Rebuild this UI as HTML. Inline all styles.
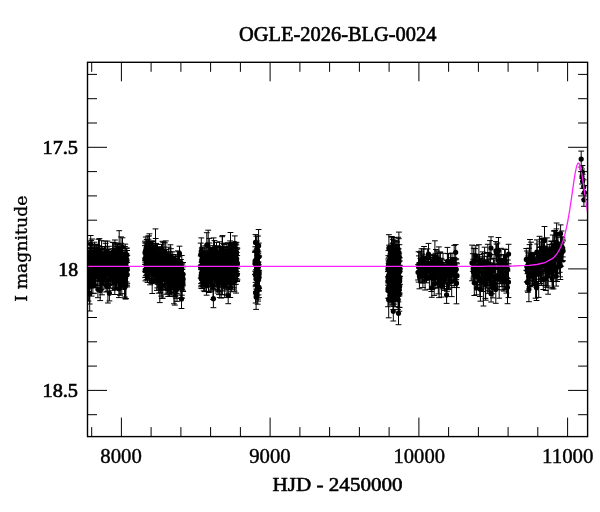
<!DOCTYPE html>
<html><head><meta charset="utf-8"><title>OGLE-2026-BLG-0024</title>
<style>html,body{margin:0;padding:0;background:#fff;width:600px;height:512px;overflow:hidden}svg{display:block;will-change:transform}</style>
</head><body>
<svg width="600" height="512" viewBox="0 0 600 512">
<rect width="600" height="512" fill="#fff"/>
<defs><clipPath id="c"><rect x="87.5" y="62.3" width="500.1" height="374.3"/></clipPath></defs>
<g clip-path="url(#c)">
<path d="M85.7 261.2h0M86.0 249.4h0M86.1 269.7h0M86.3 271.9h0M86.6 263.3h0M86.7 265.6h0M86.8 263.3h0M87.1 263.0h0M87.2 262.8h0M87.3 252.0h0M87.6 278.5h0M87.6 253.6h0M88.0 260.2h0M88.0 269.7h0M88.2 261.8h0M88.4 278.9h0M88.6 264.3h0M88.8 262.8h0M88.9 268.2h0M89.1 281.0h0M89.4 263.7h0M89.4 266.2h0M89.7 293.4h0M89.7 286.3h0M89.9 258.7h0M90.1 260.3h0M90.2 268.1h0M90.5 265.5h0M90.7 244.3h0M90.9 260.1h0M91.0 259.6h0M91.2 255.3h0M91.4 278.4h0M91.6 285.8h0M91.6 262.5h0M91.8 276.4h0M92.1 252.9h0M92.2 264.9h0M92.4 259.7h0M92.6 264.4h0M92.8 266.7h0M92.9 282.4h0M93.0 270.4h0M93.3 254.7h0M93.5 276.5h0M93.7 274.2h0M93.8 268.6h0M94.0 261.9h0M94.2 254.7h0M94.4 276.8h0M94.5 252.1h0M94.7 258.8h0M94.9 275.1h0M95.1 260.0h0M95.2 275.8h0M95.3 252.8h0M95.5 267.0h0M95.6 276.3h0M95.8 265.9h0M96.0 275.1h0M96.2 269.7h0M96.4 264.4h0M96.5 256.8h0M96.8 256.8h0M96.9 255.5h0M97.2 263.4h0M97.3 262.9h0M97.5 268.1h0M97.7 269.4h0M97.9 289.3h0M97.9 274.0h0M98.2 265.5h0M98.3 261.3h0M98.5 249.3h0M98.7 261.7h0M98.8 274.0h0M99.0 258.5h0M99.3 269.5h0M99.4 252.4h0M99.6 264.5h0M99.8 269.9h0M99.8 278.9h0M100.0 266.0h0M100.2 290.5h0M100.4 264.9h0M100.6 276.3h0M100.8 269.3h0M101.0 261.4h0M101.1 265.1h0M101.3 266.8h0M101.5 277.8h0M101.6 253.0h0M101.8 263.0h0M102.0 283.0h0M102.2 256.2h0M102.4 269.3h0M102.5 274.4h0M102.7 262.0h0M102.9 271.2h0M103.0 263.4h0M103.3 266.9h0M103.3 270.3h0M103.6 266.4h0M103.7 264.0h0M103.8 258.5h0M104.0 267.0h0M104.2 266.9h0M104.5 268.7h0M104.6 256.6h0M104.7 271.9h0M105.0 264.1h0M105.0 270.8h0M105.3 255.1h0M105.5 270.1h0M105.7 255.2h0M105.7 262.1h0M106.0 267.1h0M106.1 285.6h0M106.4 269.1h0M106.5 266.2h0M106.8 263.2h0M106.8 265.7h0M107.0 263.4h0M107.2 286.4h0M107.4 261.6h0M107.5 253.0h0M107.7 260.8h0M107.9 285.1h0M108.1 265.8h0M108.3 273.4h0M108.5 265.4h0M108.6 270.7h0M108.9 254.9h0M108.9 265.5h0M109.2 268.0h0M109.2 272.1h0M109.4 293.2h0M109.7 267.0h0M109.8 274.5h0M110.0 262.6h0M110.1 267.1h0M110.3 266.1h0M110.6 266.9h0M110.6 273.8h0M110.8 262.3h0M111.1 268.4h0M111.2 264.4h0M111.4 260.2h0M111.6 265.2h0M111.8 263.4h0M111.8 265.9h0M112.0 272.1h0M112.2 273.7h0M112.4 258.6h0M112.6 252.5h0M112.8 277.5h0M112.9 265.8h0M113.2 276.4h0M113.4 258.0h0M113.4 264.1h0M113.7 269.3h0M113.8 263.2h0M114.0 275.8h0M114.2 258.5h0M114.3 263.2h0M114.6 265.0h0M114.8 282.7h0M114.9 255.1h0M115.0 278.3h0M115.3 271.1h0M115.5 275.4h0M115.6 270.6h0M115.8 256.5h0M115.9 269.6h0M116.1 263.2h0M116.3 269.8h0M116.4 272.4h0M116.7 267.2h0M116.8 267.2h0M117.0 253.4h0M117.1 261.2h0M117.3 254.8h0M117.5 256.5h0M117.6 262.0h0M117.9 261.8h0M118.0 269.8h0M118.2 272.2h0M118.3 276.3h0M118.5 263.9h0M118.7 253.0h0M118.9 288.7h0M119.1 262.4h0M119.2 250.5h0M119.3 267.6h0M119.5 271.9h0M119.7 262.8h0M119.9 282.4h0M120.2 271.3h0M120.2 285.1h0M120.4 267.1h0M120.7 269.4h0M120.7 267.5h0M121.0 251.7h0M121.2 253.8h0M121.4 261.4h0M121.4 270.9h0M121.7 276.7h0M121.8 283.6h0M121.9 268.5h0M122.2 261.4h0M122.3 261.9h0M122.5 247.1h0M122.7 272.6h0M122.8 267.0h0M123.0 264.5h0M123.3 261.8h0M123.5 266.7h0M123.6 270.7h0M123.8 262.0h0M124.0 268.0h0M124.2 266.5h0M124.3 266.0h0M124.4 268.1h0M124.7 287.6h0M124.7 279.6h0M125.0 254.2h0M125.2 269.5h0M125.3 261.2h0M125.5 265.4h0M125.6 285.3h0M125.9 285.4h0M126.1 265.8h0M126.2 262.2h0M126.4 269.3h0M126.6 261.7h0M126.6 254.5h0M126.8 259.4h0M127.1 267.8h0M127.2 274.7h0M127.3 269.3h0M144.9 258.8h0M145.0 252.8h0M145.2 251.8h0M145.2 269.8h0M145.4 270.7h0M145.6 250.5h0M145.8 256.3h0M146.0 264.4h0M146.0 260.3h0M146.3 257.4h0M146.5 268.0h0M146.7 263.1h0M146.7 250.2h0M146.9 258.8h0M147.1 247.1h0M147.2 262.1h0M147.5 275.6h0M147.6 261.6h0M147.8 246.5h0M147.9 259.1h0M148.1 269.5h0M148.2 255.3h0M148.3 268.4h0M148.5 253.4h0M148.6 261.7h0M148.8 263.0h0M149.0 255.5h0M149.1 243.1h0M149.4 271.8h0M149.4 246.8h0M149.6 269.7h0M149.9 260.2h0M150.0 269.9h0M150.1 256.6h0M150.3 260.6h0M150.5 257.3h0M150.6 259.9h0M150.7 260.9h0M150.9 254.3h0M151.1 258.9h0M151.3 270.0h0M151.5 259.4h0M151.6 249.8h0M151.8 269.4h0M152.0 261.5h0M152.1 263.2h0M152.2 281.6h0M152.4 256.0h0M152.5 260.2h0M152.7 258.1h0M152.8 263.3h0M153.0 255.2h0M153.2 273.0h0M153.3 264.6h0M153.4 259.1h0M153.7 257.5h0M153.9 263.8h0M154.0 271.7h0M154.2 260.5h0M154.3 260.6h0M154.5 269.3h0M154.6 272.7h0M154.8 258.2h0M155.0 266.9h0M155.1 266.3h0M155.3 261.7h0M155.4 265.5h0M155.5 246.5h0M155.7 260.3h0M155.9 265.1h0M156.1 257.2h0M156.2 269.7h0M156.3 269.7h0M156.6 263.9h0M156.7 260.0h0M156.9 281.2h0M157.0 262.7h0M157.2 265.9h0M157.3 269.4h0M157.5 253.2h0M157.7 264.9h0M157.9 269.5h0M158.0 269.6h0M158.2 271.1h0M158.4 263.2h0M158.5 271.9h0M158.7 279.8h0M158.9 280.0h0M158.9 262.8h0M159.1 262.8h0M159.2 254.5h0M159.5 265.6h0M159.6 264.8h0M159.8 283.6h0M159.9 277.7h0M160.1 258.3h0M160.3 282.4h0M160.4 273.5h0M160.5 260.1h0M160.7 259.4h0M160.9 266.4h0M161.0 259.9h0M161.2 288.3h0M161.3 279.6h0M161.5 250.8h0M161.7 267.4h0M161.8 266.3h0M161.9 285.1h0M162.1 266.4h0M162.2 264.5h0M162.5 253.6h0M162.7 268.9h0M162.8 277.7h0M163.0 269.3h0M163.2 251.8h0M163.3 258.5h0M163.5 272.0h0M163.7 262.1h0M163.8 267.8h0M164.0 264.1h0M164.0 262.9h0M164.3 276.2h0M164.4 268.5h0M164.6 274.9h0M164.7 270.5h0M164.9 254.4h0M165.1 274.3h0M165.3 266.9h0M165.4 270.2h0M165.5 273.5h0M165.6 257.7h0M165.8 258.2h0M166.1 272.9h0M166.2 278.3h0M166.3 260.3h0M166.5 257.9h0M166.7 276.3h0M166.8 272.4h0M167.0 265.5h0M167.2 270.2h0M167.3 269.6h0M167.5 278.8h0M167.7 274.1h0M167.8 264.8h0M167.9 272.2h0M168.1 281.3h0M168.2 267.0h0M168.5 270.8h0M168.6 265.6h0M168.7 259.2h0M169.0 274.9h0M169.1 276.9h0M169.2 272.0h0M169.4 285.5h0M169.6 268.9h0M169.7 271.9h0M169.8 283.9h0M170.0 266.0h0M170.3 285.8h0M170.3 268.1h0M170.4 258.6h0M170.7 266.1h0M170.8 278.4h0M170.9 262.5h0M171.2 280.9h0M171.3 285.2h0M171.5 264.3h0M171.6 269.9h0M171.8 261.3h0M172.0 282.4h0M172.2 259.0h0M172.2 275.9h0M172.5 274.1h0M172.6 274.6h0M172.8 269.0h0M173.0 263.1h0M173.1 269.0h0M173.2 273.3h0M173.5 271.2h0M173.6 273.7h0M173.7 273.1h0M173.9 281.6h0M174.1 284.4h0M174.1 278.2h0M174.4 281.7h0M174.5 267.2h0M174.6 268.9h0M174.9 286.5h0M175.0 268.5h0M175.2 288.9h0M175.3 267.7h0M175.4 270.4h0M175.7 282.9h0M175.8 284.4h0M176.0 280.1h0M176.1 282.0h0M176.3 267.7h0M176.4 275.4h0M176.6 284.0h0M176.7 269.4h0M177.0 289.0h0M177.1 275.2h0M177.2 287.2h0M177.4 281.4h0M177.5 275.7h0M177.8 270.8h0M177.8 264.4h0M178.1 267.7h0M178.1 270.4h0M178.4 263.3h0M178.5 276.7h0M178.7 265.0h0M178.9 266.1h0M179.0 276.0h0M179.2 282.0h0M179.4 278.6h0M179.5 253.7h0M179.6 269.6h0M179.9 280.4h0M180.0 270.4h0M180.1 270.7h0M180.4 273.0h0M180.4 272.2h0M180.7 277.2h0M180.8 283.8h0M180.9 269.9h0M181.0 274.2h0M181.3 277.1h0M181.5 287.3h0M181.5 299.1h0M181.8 268.8h0M181.9 286.1h0M182.1 287.7h0M182.3 276.8h0M182.4 274.0h0M182.5 280.5h0M182.7 275.3h0M182.9 282.6h0M183.0 274.2h0M183.2 279.1h0M200.7 254.5h0M200.7 266.9h0M201.0 278.0h0M201.1 275.5h0M201.3 251.2h0M201.3 279.1h0M201.5 273.7h0M201.7 260.4h0M201.8 272.5h0M202.1 262.5h0M202.1 267.0h0M202.3 272.9h0M202.5 277.8h0M202.6 265.4h0M202.7 264.1h0M202.9 265.9h0M203.0 269.5h0M203.2 278.4h0M203.4 263.3h0M203.5 265.5h0M203.7 275.6h0M203.8 263.6h0M203.9 261.4h0M204.2 278.3h0M204.3 264.4h0M204.5 274.0h0M204.5 257.7h0M204.8 282.9h0M205.0 275.5h0M205.1 266.5h0M205.2 260.2h0M205.3 276.4h0M205.6 264.2h0M205.7 271.0h0M205.9 267.2h0M206.0 264.0h0M206.1 273.5h0M206.3 260.8h0M206.4 272.2h0M206.6 285.7h0M206.8 244.9h0M207.0 258.4h0M207.1 257.9h0M207.2 265.5h0M207.5 268.4h0M207.5 265.3h0M207.7 260.8h0M207.8 269.9h0M208.1 271.1h0M208.2 246.0h0M208.4 271.8h0M208.5 280.0h0M208.6 261.6h0M208.8 274.2h0M208.9 271.4h0M209.0 266.0h0M209.3 255.6h0M209.4 259.0h0M209.5 252.4h0M209.8 265.1h0M209.8 279.0h0M210.1 277.2h0M210.1 265.5h0M210.4 266.2h0M210.4 260.5h0M210.6 261.8h0M210.8 280.8h0M210.9 260.7h0M211.1 262.2h0M211.2 276.5h0M211.4 265.6h0M211.5 262.2h0M211.7 277.3h0M211.8 260.2h0M212.1 259.2h0M212.2 263.2h0M212.3 259.2h0M212.5 270.8h0M212.6 275.9h0M212.8 261.5h0M212.9 273.9h0M213.1 285.5h0M213.2 268.9h0M213.4 298.7h0M213.6 248.5h0M213.7 255.1h0M213.9 262.2h0M214.0 268.3h0M214.1 261.1h0M214.4 269.5h0M214.5 250.5h0M214.6 274.2h0M214.8 271.3h0M214.9 276.1h0M215.1 261.7h0M215.3 266.6h0M215.4 271.8h0M215.6 265.1h0M215.8 256.1h0M215.9 267.3h0M216.0 264.9h0M216.3 266.5h0M216.3 267.1h0M216.5 251.9h0M216.7 263.4h0M216.8 260.2h0M216.9 260.6h0M217.1 279.9h0M217.2 276.1h0M217.4 276.4h0M217.5 267.4h0M217.7 273.7h0M217.8 256.5h0M218.0 282.2h0M218.2 256.3h0M218.4 262.5h0M218.6 276.7h0M218.6 283.0h0M218.8 271.4h0M219.0 280.1h0M219.1 270.2h0M219.2 264.0h0M219.5 264.1h0M219.7 281.6h0M219.7 273.1h0M219.9 272.6h0M220.0 264.8h0M220.2 261.2h0M220.3 258.2h0M220.5 270.8h0M220.7 260.8h0M220.8 266.5h0M221.0 267.2h0M221.2 275.7h0M221.2 271.6h0M221.4 280.7h0M221.6 267.4h0M221.8 280.2h0M221.9 273.5h0M222.0 270.5h0M222.2 248.8h0M222.3 279.9h0M222.5 257.9h0M222.7 269.7h0M222.8 257.4h0M223.0 280.1h0M223.1 255.2h0M223.3 269.9h0M223.5 268.4h0M223.6 262.6h0M223.8 258.0h0M223.9 260.6h0M224.1 255.1h0M224.2 262.7h0M224.3 278.7h0M224.6 261.6h0M224.7 284.6h0M224.9 274.2h0M224.9 266.8h0M225.2 255.3h0M225.3 259.8h0M225.4 271.2h0M225.6 261.1h0M225.7 260.7h0M225.9 270.4h0M226.1 266.4h0M226.2 257.8h0M226.4 262.9h0M226.6 277.6h0M226.7 271.5h0M226.9 269.9h0M226.9 276.5h0M227.1 279.6h0M227.2 271.8h0M227.4 269.7h0M227.6 259.9h0M227.8 272.9h0M227.9 256.4h0M228.0 281.4h0M228.2 295.5h0M228.3 263.6h0M228.6 266.1h0M228.7 271.4h0M228.9 263.2h0M229.0 263.6h0M229.1 264.2h0M229.3 267.2h0M229.5 256.1h0M229.5 263.2h0M229.8 274.7h0M229.9 254.1h0M230.1 252.8h0M230.3 287.5h0M230.5 244.4h0M230.5 278.1h0M230.6 270.8h0M230.8 267.3h0M231.0 268.4h0M231.2 261.6h0M231.4 258.4h0M231.4 269.3h0M231.6 272.1h0M231.8 270.6h0M231.9 265.6h0M232.2 256.5h0M232.3 266.6h0M232.4 263.7h0M232.6 261.9h0M232.7 267.9h0M232.8 278.6h0M233.0 264.3h0M233.1 259.5h0M233.3 265.7h0M233.4 250.7h0M233.7 272.3h0M233.8 270.1h0M233.9 274.1h0M234.1 255.7h0M234.2 262.8h0M234.4 272.4h0M234.5 268.9h0M234.8 265.6h0M234.8 243.3h0M235.1 262.6h0M235.2 249.8h0M235.3 259.0h0M235.5 252.3h0M235.7 260.7h0M235.8 273.4h0M235.9 250.9h0M236.1 273.5h0M236.2 270.7h0M236.4 254.4h0M236.5 252.1h0M236.7 258.8h0M236.8 262.0h0M237.1 264.8h0M237.2 264.5h0M237.3 274.5h0M237.4 263.7h0M255.0 263.5h0M255.1 261.7h0M255.3 262.9h0M255.3 260.5h0M255.5 242.4h0M255.6 275.5h0M255.6 292.7h0M255.7 272.8h0M255.9 260.7h0M256.0 279.1h0M256.1 297.1h0M256.2 251.3h0M256.3 274.6h0M256.4 251.2h0M256.6 269.3h0M256.7 284.5h0M256.8 262.1h0M256.9 249.9h0M257.0 278.0h0M257.1 267.6h0M257.1 280.7h0M257.3 265.9h0M257.4 260.2h0M257.5 275.2h0M257.6 281.5h0M257.7 290.2h0M257.8 279.6h0M257.9 287.9h0M258.0 250.8h0M258.2 289.4h0M258.3 267.2h0M258.4 263.2h0M258.5 275.2h0M258.6 245.7h0M258.6 279.1h0M258.8 256.7h0M258.9 277.7h0M259.0 287.3h0M259.1 274.0h0M259.2 272.4h0M388.0 277.2h0M388.0 289.2h0M388.1 281.1h0M388.2 267.8h0M388.3 268.9h0M388.4 290.7h0M388.4 265.7h0M388.5 279.5h0M388.6 275.3h0M388.7 299.8h0M388.8 280.1h0M388.8 268.7h0M388.9 248.2h0M389.0 268.1h0M389.1 269.8h0M389.1 278.2h0M389.3 275.4h0M389.3 288.8h0M389.4 284.5h0M389.5 281.0h0M389.6 284.4h0M389.6 270.2h0M389.7 270.8h0M389.8 275.9h0M389.9 275.6h0M390.0 260.1h0M390.1 288.7h0M390.1 268.4h0M390.2 267.8h0M390.3 275.8h0M390.4 268.7h0M390.5 263.6h0M390.5 287.7h0M390.6 281.0h0M390.7 265.1h0M390.8 264.2h0M390.9 258.9h0M391.0 292.5h0M391.0 275.1h0M391.1 268.1h0M391.1 270.1h0M391.2 251.4h0M391.3 286.9h0M391.4 278.7h0M391.5 248.8h0M391.6 255.6h0M391.7 271.5h0M391.7 288.5h0M391.8 274.4h0M391.9 262.2h0M392.0 293.6h0M392.1 274.6h0M392.2 299.8h0M392.3 273.1h0M392.3 286.1h0M392.4 269.7h0M392.4 269.3h0M392.6 253.1h0M392.6 256.7h0M392.7 281.3h0M392.8 255.4h0M392.8 268.1h0M393.0 267.4h0M393.1 283.7h0M393.1 262.5h0M393.2 297.2h0M393.3 311.2h0M393.3 265.2h0M393.4 248.3h0M393.5 268.4h0M393.6 263.6h0M393.6 261.7h0M393.7 259.5h0M393.8 275.4h0M393.9 298.1h0M394.0 257.4h0M394.1 287.7h0M394.2 288.5h0M394.2 259.0h0M394.3 288.5h0M394.4 275.7h0M394.5 267.7h0M394.5 268.6h0M394.6 275.5h0M394.7 277.2h0M394.8 261.1h0M394.9 255.7h0M395.0 260.5h0M395.1 284.0h0M395.1 270.1h0M395.2 294.0h0M395.2 267.3h0M395.4 270.0h0M395.4 266.5h0M395.5 267.1h0M395.6 275.5h0M395.7 278.5h0M395.7 287.4h0M395.8 284.0h0M395.9 268.4h0M396.0 287.8h0M396.1 260.5h0M396.1 276.7h0M396.2 281.0h0M396.3 265.2h0M396.4 281.1h0M396.5 254.2h0M396.6 270.9h0M396.6 258.7h0M396.7 276.1h0M396.8 260.7h0M396.8 253.8h0M397.0 278.5h0M397.1 280.0h0M397.1 261.4h0M397.2 272.5h0M397.3 265.3h0M397.4 256.2h0M397.4 269.4h0M397.5 283.2h0M397.6 268.8h0M397.7 271.1h0M397.7 276.6h0M397.8 263.7h0M398.0 299.4h0M398.0 284.0h0M398.1 267.2h0M398.2 249.2h0M398.2 275.3h0M398.3 277.1h0M398.4 282.5h0M398.5 313.3h0M398.5 262.3h0M398.6 283.9h0M398.7 262.5h0M398.8 252.6h0M398.9 272.3h0M398.9 257.3h0M399.1 278.7h0M399.2 289.2h0M399.2 260.9h0M399.3 293.6h0M399.4 256.9h0M399.5 279.8h0M399.5 286.3h0M399.6 286.5h0M399.7 281.0h0M399.8 271.0h0M399.8 278.2h0M399.9 268.7h0M418.0 272.3h0M418.6 266.9h0M418.9 264.2h0M419.4 275.8h0M419.9 265.0h0M420.4 268.8h0M420.9 268.7h0M421.0 266.9h0M421.6 259.3h0M422.0 267.6h0M422.5 271.3h0M422.9 271.2h0M423.3 261.8h0M424.0 262.3h0M424.4 269.2h0M424.5 269.4h0M425.1 276.0h0M425.4 268.6h0M425.9 268.7h0M426.5 272.5h0M426.8 267.1h0M427.4 257.7h0M427.8 271.0h0M428.0 263.5h0M428.5 254.2h0M429.1 269.0h0M429.4 277.8h0M430.1 268.4h0M430.5 265.7h0M430.9 268.2h0M431.2 275.5h0M431.8 287.8h0M432.0 275.6h0M432.5 269.7h0M433.0 262.0h0M433.3 278.7h0M434.0 264.5h0M434.2 283.8h0M434.9 257.3h0M435.4 273.4h0M435.5 264.8h0M435.9 268.8h0M436.7 266.4h0M436.9 264.5h0M437.5 268.7h0M437.6 277.9h0M438.3 283.1h0M438.9 259.1h0M439.1 279.7h0M439.8 267.4h0M440.1 262.1h0M440.3 263.1h0M440.8 272.5h0M441.4 285.6h0M441.7 276.3h0M442.3 271.5h0M442.7 271.1h0M443.0 271.1h0M443.6 274.9h0M443.8 275.7h0M444.5 279.4h0M445.0 270.2h0M445.4 274.8h0M445.5 273.4h0M446.3 273.8h0M446.6 294.9h0M447.0 275.9h0M447.4 261.3h0M448.0 271.2h0M448.2 284.1h0M448.5 271.5h0M449.3 276.1h0M449.7 268.9h0M449.8 273.2h0M450.4 261.5h0M450.7 271.7h0M451.2 269.0h0M451.7 280.8h0M452.0 264.9h0M452.9 267.9h0M453.3 274.6h0M453.4 267.1h0M454.1 269.5h0M454.2 266.5h0M454.6 271.8h0M455.5 270.6h0M455.7 252.3h0M456.3 269.3h0M456.5 283.2h0M457.0 275.7h0M472.0 262.9h0M472.8 262.5h0M473.2 268.7h0M473.5 272.2h0M473.7 262.1h0M474.3 282.8h0M474.7 275.4h0M475.1 260.5h0M475.8 255.8h0M476.2 269.0h0M476.4 288.0h0M477.1 271.1h0M477.5 276.8h0M477.6 277.1h0M478.3 277.1h0M478.9 260.5h0M479.3 269.6h0M479.4 264.8h0M479.8 278.3h0M480.4 289.2h0M481.1 268.7h0M481.4 271.1h0M481.6 280.9h0M482.1 266.1h0M482.6 264.2h0M483.0 280.6h0M483.4 282.9h0M484.0 262.3h0M484.2 275.2h0M484.6 263.3h0M485.4 280.2h0M485.7 283.7h0M486.3 273.4h0M486.6 274.9h0M487.0 262.6h0M487.2 262.3h0M487.8 268.8h0M488.2 275.1h0M488.7 273.1h0M489.3 278.9h0M489.6 277.1h0M490.0 254.8h0M490.6 273.4h0M491.0 248.0h0M491.1 293.7h0M491.6 275.2h0M492.1 282.7h0M492.8 271.3h0M492.9 287.4h0M493.4 265.2h0M494.1 268.4h0M494.5 284.0h0M494.9 277.8h0M495.4 278.6h0M495.8 289.3h0M495.9 250.9h0M496.5 253.1h0M497.2 275.7h0M497.4 254.4h0M497.7 279.2h0M498.5 250.5h0M499.0 268.0h0M499.2 279.0h0M499.8 261.2h0M499.9 269.2h0M500.4 271.3h0M501.0 264.6h0M501.5 266.3h0M501.8 277.7h0M502.2 274.5h0M502.7 270.0h0M503.1 269.2h0M503.6 268.1h0M503.8 281.6h0M504.4 276.0h0M504.6 260.5h0M505.3 256.6h0M505.6 269.2h0M506.0 280.1h0M506.4 282.0h0M506.9 266.3h0M507.5 287.4h0M507.8 269.3h0M508.5 282.0h0M508.6 254.1h0M526.3 259.4h0M526.8 266.5h0M527.1 270.5h0M527.5 282.4h0M527.9 282.5h0M528.2 266.6h0M528.3 264.8h0M528.9 289.3h0M529.2 265.7h0M529.5 275.6h0M529.6 262.8h0M530.0 263.1h0M530.6 267.0h0M530.8 266.7h0M531.0 255.1h0M531.3 264.9h0M531.6 266.5h0M532.3 276.3h0M532.4 262.9h0M532.9 272.1h0M533.1 271.5h0M533.4 268.0h0M533.8 267.3h0M534.2 266.8h0M534.4 269.9h0M534.9 269.6h0M535.1 271.3h0M535.6 283.5h0M535.9 267.3h0M536.3 270.2h0M536.5 287.7h0M536.9 252.1h0M537.2 252.5h0M537.5 262.9h0M538.0 261.1h0M538.3 270.1h0M538.5 269.6h0M538.7 273.8h0M539.2 266.3h0M539.5 256.1h0M539.8 261.0h0M540.1 258.3h0M540.5 268.5h0M540.8 255.9h0M541.2 271.2h0M541.6 262.2h0M541.8 248.8h0M542.3 248.5h0M542.5 255.4h0M542.8 264.1h0M543.3 279.4h0M543.7 254.0h0M543.8 252.4h0M544.2 258.9h0M544.5 240.4h0M545.0 266.3h0M545.4 259.9h0M545.7 278.8h0M545.9 266.7h0M546.3 265.8h0M546.7 271.2h0M546.9 249.9h0M547.4 258.4h0M547.7 272.2h0M548.1 275.7h0M548.2 263.7h0M548.8 268.2h0M549.0 260.6h0M549.2 261.7h0M549.7 253.8h0M549.9 261.7h0M550.4 262.2h0M550.8 258.1h0M551.1 256.0h0M551.2 261.2h0M551.5 256.6h0M552.1 278.2h0M552.4 265.7h0M552.8 248.7h0M552.9 271.0h0M553.5 276.2h0M553.8 246.0h0M554.0 260.1h0M554.4 248.1h0M554.6 266.7h0M555.1 249.9h0M555.4 255.2h0M555.8 270.1h0M556.2 276.1h0M556.5 242.5h0M556.6 234.0h0M557.1 267.0h0M557.3 251.8h0M557.6 260.0h0M558.0 249.2h0M558.3 257.7h0M558.6 251.8h0M558.9 256.4h0M559.5 255.2h0M559.7 261.1h0M560.1 264.7h0M560.4 265.8h0M560.6 233.5h0M561.2 251.5h0M561.3 252.9h0M561.6 246.5h0M562.1 252.1h0M562.4 249.2h0M562.7 248.1h0M563.1 250.9h0M581.2 159.1h0M582.0 176.5h0M582.4 172.0h0M582.6 181.3h0M583.7 186.8h0M584.4 192.5h0M583.9 199.8h0" stroke="#000" stroke-width="5.2" stroke-linecap="round" fill="none"/>
<path d="M85.7 250.8V271.7M82.8 250.8h5.8M82.8 271.7h5.8M86.0 241.9V257.0M83.1 241.9h5.8M83.1 257.0h5.8M86.1 261.4V277.9M83.2 261.4h5.8M83.2 277.9h5.8M86.3 260.3V283.6M83.4 260.3h5.8M83.4 283.6h5.8M86.6 252.8V273.8M83.7 252.8h5.8M83.7 273.8h5.8M86.7 252.5V278.7M83.8 252.5h5.8M83.8 278.7h5.8M86.8 253.4V273.3M83.9 253.4h5.8M83.9 273.3h5.8M87.1 248.4V277.7M84.2 248.4h5.8M84.2 277.7h5.8M87.2 253.2V272.5M84.3 253.2h5.8M84.3 272.5h5.8M87.3 243.6V260.5M84.4 243.6h5.8M84.4 260.5h5.8M87.6 267.7V289.3M84.7 267.7h5.8M84.7 289.3h5.8M87.6 242.0V265.3M84.7 242.0h5.8M84.7 265.3h5.8M88.0 253.0V267.5M85.1 253.0h5.8M85.1 267.5h5.8M88.0 257.0V282.4M85.1 257.0h5.8M85.1 282.4h5.8M88.2 256.1V267.6M85.3 256.1h5.8M85.3 267.6h5.8M88.4 256.7V301.1M85.5 256.7h5.8M85.5 301.1h5.8M88.6 250.9V277.7M85.7 250.9h5.8M85.7 277.7h5.8M88.8 251.8V273.8M85.9 251.8h5.8M85.9 273.8h5.8M88.9 258.8V277.5M86.0 258.8h5.8M86.0 277.5h5.8M89.1 269.1V292.9M86.2 269.1h5.8M86.2 292.9h5.8M89.4 252.3V275.0M86.5 252.3h5.8M86.5 275.0h5.8M89.4 248.1V284.3M86.5 248.1h5.8M86.5 284.3h5.8M89.7 275.8V311.0M86.8 275.8h5.8M86.8 311.0h5.8M89.7 268.6V304.0M86.8 268.6h5.8M86.8 304.0h5.8M89.9 248.1V269.3M87.0 248.1h5.8M87.0 269.3h5.8M90.1 252.2V268.5M87.2 252.2h5.8M87.2 268.5h5.8M90.2 258.4V277.8M87.3 258.4h5.8M87.3 277.8h5.8M90.5 259.2V271.8M87.6 259.2h5.8M87.6 271.8h5.8M90.7 235.5V253.1M87.8 235.5h5.8M87.8 253.1h5.8M90.9 247.7V272.5M88.0 247.7h5.8M88.0 272.5h5.8M91.0 253.7V265.6M88.1 253.7h5.8M88.1 265.6h5.8M91.2 240.4V270.2M88.3 240.4h5.8M88.3 270.2h5.8M91.4 272.1V284.8M88.5 272.1h5.8M88.5 284.8h5.8M91.6 275.5V296.1M88.7 275.5h5.8M88.7 296.1h5.8M91.6 256.3V268.7M88.7 256.3h5.8M88.7 268.7h5.8M91.8 264.9V287.9M88.9 264.9h5.8M88.9 287.9h5.8M92.1 239.0V266.8M89.2 239.0h5.8M89.2 266.8h5.8M92.2 254.0V275.9M89.3 254.0h5.8M89.3 275.9h5.8M92.4 250.4V269.0M89.5 250.4h5.8M89.5 269.0h5.8M92.6 255.7V273.0M89.7 255.7h5.8M89.7 273.0h5.8M92.8 253.5V279.8M89.9 253.5h5.8M89.9 279.8h5.8M92.9 271.2V293.6M90.0 271.2h5.8M90.0 293.6h5.8M93.0 260.8V280.1M90.1 260.8h5.8M90.1 280.1h5.8M93.3 244.4V265.1M90.4 244.4h5.8M90.4 265.1h5.8M93.5 266.8V286.1M90.6 266.8h5.8M90.6 286.1h5.8M93.7 263.4V284.9M90.8 263.4h5.8M90.8 284.9h5.8M93.8 258.9V278.3M90.9 258.9h5.8M90.9 278.3h5.8M94.0 251.4V272.4M91.1 251.4h5.8M91.1 272.4h5.8M94.2 249.1V260.3M91.3 249.1h5.8M91.3 260.3h5.8M94.4 265.8V287.7M91.5 265.8h5.8M91.5 287.7h5.8M94.5 242.2V261.9M91.6 242.2h5.8M91.6 261.9h5.8M94.7 248.7V269.0M91.8 248.7h5.8M91.8 269.0h5.8M94.9 265.8V284.5M92.0 265.8h5.8M92.0 284.5h5.8M95.1 248.3V271.6M92.2 248.3h5.8M92.2 271.6h5.8M95.2 267.5V284.1M92.3 267.5h5.8M92.3 284.1h5.8M95.3 244.2V261.4M92.4 244.2h5.8M92.4 261.4h5.8M95.5 248.5V285.5M92.6 248.5h5.8M92.6 285.5h5.8M95.6 265.0V287.5M92.7 265.0h5.8M92.7 287.5h5.8M95.8 259.5V272.2M92.9 259.5h5.8M92.9 272.2h5.8M96.0 263.2V287.0M93.1 263.2h5.8M93.1 287.0h5.8M96.2 260.8V278.6M93.3 260.8h5.8M93.3 278.6h5.8M96.4 252.1V276.8M93.5 252.1h5.8M93.5 276.8h5.8M96.5 248.0V265.6M93.6 248.0h5.8M93.6 265.6h5.8M96.8 245.9V267.7M93.9 245.9h5.8M93.9 267.7h5.8M96.9 244.7V266.3M94.0 244.7h5.8M94.0 266.3h5.8M97.2 253.7V273.1M94.3 253.7h5.8M94.3 273.1h5.8M97.3 254.2V271.7M94.4 254.2h5.8M94.4 271.7h5.8M97.5 256.2V280.0M94.6 256.2h5.8M94.6 280.0h5.8M97.7 263.9V274.9M94.8 263.9h5.8M94.8 274.9h5.8M97.9 280.9V297.7M95.0 280.9h5.8M95.0 297.7h5.8M97.9 262.8V285.3M95.0 262.8h5.8M95.0 285.3h5.8M98.2 253.6V277.4M95.3 253.6h5.8M95.3 277.4h5.8M98.3 254.3V268.4M95.4 254.3h5.8M95.4 268.4h5.8M98.5 239.3V259.2M95.6 239.3h5.8M95.6 259.2h5.8M98.7 248.0V275.3M95.8 248.0h5.8M95.8 275.3h5.8M98.8 267.0V281.1M95.9 267.0h5.8M95.9 281.1h5.8M99.0 245.7V271.3M96.1 245.7h5.8M96.1 271.3h5.8M99.3 261.0V278.0M96.4 261.0h5.8M96.4 278.0h5.8M99.4 238.6V266.2M96.5 238.6h5.8M96.5 266.2h5.8M99.6 258.0V271.0M96.7 258.0h5.8M96.7 271.0h5.8M99.8 261.4V278.4M96.9 261.4h5.8M96.9 278.4h5.8M99.8 268.7V289.1M96.9 268.7h5.8M96.9 289.1h5.8M100.0 256.4V275.7M97.1 256.4h5.8M97.1 275.7h5.8M100.2 280.3V300.6M97.3 280.3h5.8M97.3 300.6h5.8M100.4 256.2V273.6M97.5 256.2h5.8M97.5 273.6h5.8M100.6 262.0V290.6M97.7 262.0h5.8M97.7 290.6h5.8M100.8 257.6V281.1M97.9 257.6h5.8M97.9 281.1h5.8M101.0 248.9V273.9M98.1 248.9h5.8M98.1 273.9h5.8M101.1 249.6V280.7M98.2 249.6h5.8M98.2 280.7h5.8M101.3 259.3V274.3M98.4 259.3h5.8M98.4 274.3h5.8M101.5 266.1V289.5M98.6 266.1h5.8M98.6 289.5h5.8M101.6 240.7V265.4M98.7 240.7h5.8M98.7 265.4h5.8M101.8 253.9V272.1M98.9 253.9h5.8M98.9 272.1h5.8M102.0 271.2V294.8M99.1 271.2h5.8M99.1 294.8h5.8M102.2 246.6V265.8M99.3 246.6h5.8M99.3 265.8h5.8M102.4 258.1V280.6M99.5 258.1h5.8M99.5 280.6h5.8M102.5 264.2V284.6M99.6 264.2h5.8M99.6 284.6h5.8M102.7 254.7V269.3M99.8 254.7h5.8M99.8 269.3h5.8M102.9 254.2V288.2M100.0 254.2h5.8M100.0 288.2h5.8M103.0 254.1V272.6M100.1 254.1h5.8M100.1 272.6h5.8M103.3 257.5V276.3M100.4 257.5h5.8M100.4 276.3h5.8M103.3 255.9V284.6M100.4 255.9h5.8M100.4 284.6h5.8M103.6 255.6V277.1M100.7 255.6h5.8M100.7 277.1h5.8M103.7 259.0V268.9M100.8 259.0h5.8M100.8 268.9h5.8M103.8 248.4V268.6M100.9 248.4h5.8M100.9 268.6h5.8M104.0 254.2V279.8M101.1 254.2h5.8M101.1 279.8h5.8M104.2 257.8V276.0M101.3 257.8h5.8M101.3 276.0h5.8M104.5 257.2V280.2M101.6 257.2h5.8M101.6 280.2h5.8M104.6 246.9V266.3M101.7 246.9h5.8M101.7 266.3h5.8M104.7 261.1V282.8M101.8 261.1h5.8M101.8 282.8h5.8M105.0 255.9V272.3M102.1 255.9h5.8M102.1 272.3h5.8M105.0 260.6V280.9M102.1 260.6h5.8M102.1 280.9h5.8M105.3 241.1V269.2M102.4 241.1h5.8M102.4 269.2h5.8M105.5 255.0V285.2M102.6 255.0h5.8M102.6 285.2h5.8M105.7 243.3V267.1M102.8 243.3h5.8M102.8 267.1h5.8M105.7 249.7V274.5M102.8 249.7h5.8M102.8 274.5h5.8M106.0 260.0V274.2M103.1 260.0h5.8M103.1 274.2h5.8M106.1 279.2V292.0M103.2 279.2h5.8M103.2 292.0h5.8M106.4 258.4V279.9M103.5 258.4h5.8M103.5 279.9h5.8M106.5 252.1V280.3M103.6 252.1h5.8M103.6 280.3h5.8M106.8 251.3V275.0M103.9 251.3h5.8M103.9 275.0h5.8M106.8 250.3V281.1M103.9 250.3h5.8M103.9 281.1h5.8M107.0 252.7V274.0M104.1 252.7h5.8M104.1 274.0h5.8M107.2 281.5V291.4M104.3 281.5h5.8M104.3 291.4h5.8M107.4 255.7V267.6M104.5 255.7h5.8M104.5 267.6h5.8M107.5 241.1V264.9M104.6 241.1h5.8M104.6 264.9h5.8M107.7 251.5V270.0M104.8 251.5h5.8M104.8 270.0h5.8M107.9 267.2V303.0M105.0 267.2h5.8M105.0 303.0h5.8M108.1 253.3V278.3M105.2 253.3h5.8M105.2 278.3h5.8M108.3 264.9V281.9M105.4 264.9h5.8M105.4 281.9h5.8M108.5 249.4V281.3M105.6 249.4h5.8M105.6 281.3h5.8M108.6 256.9V284.5M105.7 256.9h5.8M105.7 284.5h5.8M108.9 246.3V263.5M106.0 246.3h5.8M106.0 263.5h5.8M108.9 256.0V275.0M106.0 256.0h5.8M106.0 275.0h5.8M109.2 255.5V280.6M106.3 255.5h5.8M106.3 280.6h5.8M109.2 263.0V281.2M106.3 263.0h5.8M106.3 281.2h5.8M109.4 285.4V300.9M106.5 285.4h5.8M106.5 300.9h5.8M109.7 261.5V272.5M106.8 261.5h5.8M106.8 272.5h5.8M109.8 264.9V284.1M106.9 264.9h5.8M106.9 284.1h5.8M110.0 254.5V270.7M107.1 254.5h5.8M107.1 270.7h5.8M110.1 258.1V276.1M107.2 258.1h5.8M107.2 276.1h5.8M110.3 254.1V278.1M107.4 254.1h5.8M107.4 278.1h5.8M110.6 254.4V279.3M107.7 254.4h5.8M107.7 279.3h5.8M110.6 259.3V288.2M107.7 259.3h5.8M107.7 288.2h5.8M110.8 252.7V271.8M107.9 252.7h5.8M107.9 271.8h5.8M111.1 260.0V276.7M108.2 260.0h5.8M108.2 276.7h5.8M111.2 254.0V274.8M108.3 254.0h5.8M108.3 274.8h5.8M111.4 251.9V268.5M108.5 251.9h5.8M108.5 268.5h5.8M111.6 253.9V276.5M108.7 253.9h5.8M108.7 276.5h5.8M111.8 255.1V271.7M108.9 255.1h5.8M108.9 271.7h5.8M111.8 258.0V273.8M108.9 258.0h5.8M108.9 273.8h5.8M112.0 263.5V280.6M109.1 263.5h5.8M109.1 280.6h5.8M112.2 263.5V283.9M109.3 263.5h5.8M109.3 283.9h5.8M112.4 248.7V268.5M109.5 248.7h5.8M109.5 268.5h5.8M112.6 242.3V262.7M109.7 242.3h5.8M109.7 262.7h5.8M112.8 264.7V290.3M109.9 264.7h5.8M109.9 290.3h5.8M112.9 257.0V274.6M110.0 257.0h5.8M110.0 274.6h5.8M113.2 268.4V284.5M110.3 268.4h5.8M110.3 284.5h5.8M113.4 242.6V273.5M110.5 242.6h5.8M110.5 273.5h5.8M113.4 251.0V277.3M110.5 251.0h5.8M110.5 277.3h5.8M113.7 250.5V288.2M110.8 250.5h5.8M110.8 288.2h5.8M113.8 252.8V273.6M110.9 252.8h5.8M110.9 273.6h5.8M114.0 269.1V282.6M111.1 269.1h5.8M111.1 282.6h5.8M114.2 250.2V266.7M111.3 250.2h5.8M111.3 266.7h5.8M114.3 250.5V275.8M111.4 250.5h5.8M111.4 275.8h5.8M114.6 248.9V281.0M111.7 248.9h5.8M111.7 281.0h5.8M114.8 270.8V294.5M111.9 270.8h5.8M111.9 294.5h5.8M114.9 240.0V270.3M112.0 240.0h5.8M112.0 270.3h5.8M115.0 266.6V289.9M112.1 266.6h5.8M112.1 289.9h5.8M115.3 261.8V280.4M112.4 261.8h5.8M112.4 280.4h5.8M115.5 261.2V289.6M112.6 261.2h5.8M112.6 289.6h5.8M115.6 259.3V281.8M112.7 259.3h5.8M112.7 281.8h5.8M115.8 242.8V270.1M112.9 242.8h5.8M112.9 270.1h5.8M115.9 260.0V279.1M113.0 260.0h5.8M113.0 279.1h5.8M116.1 251.9V274.6M113.2 251.9h5.8M113.2 274.6h5.8M116.3 258.7V280.9M113.4 258.7h5.8M113.4 280.9h5.8M116.4 255.8V289.0M113.5 255.8h5.8M113.5 289.0h5.8M116.7 260.7V273.7M113.8 260.7h5.8M113.8 273.7h5.8M116.8 246.4V288.0M113.9 246.4h5.8M113.9 288.0h5.8M117.0 243.8V263.1M114.1 243.8h5.8M114.1 263.1h5.8M117.1 248.1V274.3M114.2 248.1h5.8M114.2 274.3h5.8M117.3 244.1V265.5M114.4 244.1h5.8M114.4 265.5h5.8M117.5 244.4V268.6M114.6 244.4h5.8M114.6 268.6h5.8M117.6 244.8V279.3M114.7 244.8h5.8M114.7 279.3h5.8M117.9 244.4V279.1M115.0 244.4h5.8M115.0 279.1h5.8M118.0 262.6V277.1M115.1 262.6h5.8M115.1 277.1h5.8M118.2 263.0V281.5M115.3 263.0h5.8M115.3 281.5h5.8M118.3 264.6V288.0M115.4 264.6h5.8M115.4 288.0h5.8M118.5 250.0V277.9M115.6 250.0h5.8M115.6 277.9h5.8M118.7 246.7V259.3M115.8 246.7h5.8M115.8 259.3h5.8M118.9 279.7V297.6M116.0 279.7h5.8M116.0 297.6h5.8M119.1 247.5V277.4M116.2 247.5h5.8M116.2 277.4h5.8M119.2 230.7V270.2M116.3 230.7h5.8M116.3 270.2h5.8M119.3 259.2V275.9M116.4 259.2h5.8M116.4 275.9h5.8M119.5 258.8V285.0M116.6 258.8h5.8M116.6 285.0h5.8M119.7 256.4V269.3M116.8 256.4h5.8M116.8 269.3h5.8M119.9 269.8V295.1M117.0 269.8h5.8M117.0 295.1h5.8M120.2 260.6V282.1M117.3 260.6h5.8M117.3 282.1h5.8M120.2 275.1V295.0M117.3 275.1h5.8M117.3 295.0h5.8M120.4 256.4V277.8M117.5 256.4h5.8M117.5 277.8h5.8M120.7 253.3V285.4M117.8 253.3h5.8M117.8 285.4h5.8M120.7 252.9V282.0M117.8 252.9h5.8M117.8 282.0h5.8M121.0 236.9V266.5M118.1 236.9h5.8M118.1 266.5h5.8M121.2 243.3V264.3M118.3 243.3h5.8M118.3 264.3h5.8M121.4 250.5V272.4M118.5 250.5h5.8M118.5 272.4h5.8M121.4 260.5V281.3M118.5 260.5h5.8M118.5 281.3h5.8M121.7 264.2V289.2M118.8 264.2h5.8M118.8 289.2h5.8M121.8 273.5V293.7M118.9 273.5h5.8M118.9 293.7h5.8M121.9 256.4V280.6M119.0 256.4h5.8M119.0 280.6h5.8M122.2 246.6V276.2M119.3 246.6h5.8M119.3 276.2h5.8M122.3 253.8V270.0M119.4 253.8h5.8M119.4 270.0h5.8M122.5 237.8V256.4M119.6 237.8h5.8M119.6 256.4h5.8M122.7 263.7V281.4M119.8 263.7h5.8M119.8 281.4h5.8M122.8 258.6V275.4M119.9 258.6h5.8M119.9 275.4h5.8M123.0 252.2V276.9M120.1 252.2h5.8M120.1 276.9h5.8M123.3 253.2V270.4M120.4 253.2h5.8M120.4 270.4h5.8M123.5 257.9V275.5M120.6 257.9h5.8M120.6 275.5h5.8M123.6 254.5V286.9M120.7 254.5h5.8M120.7 286.9h5.8M123.8 253.8V270.2M120.9 253.8h5.8M120.9 270.2h5.8M124.0 254.5V281.5M121.1 254.5h5.8M121.1 281.5h5.8M124.2 257.0V276.0M121.3 257.0h5.8M121.3 276.0h5.8M124.3 253.8V278.2M121.4 253.8h5.8M121.4 278.2h5.8M124.4 255.9V280.3M121.5 255.9h5.8M121.5 280.3h5.8M124.7 277.3V298.0M121.8 277.3h5.8M121.8 298.0h5.8M124.7 262.3V297.0M121.8 262.3h5.8M121.8 297.0h5.8M125.0 246.6V261.8M122.1 246.6h5.8M122.1 261.8h5.8M125.2 261.1V277.8M122.3 261.1h5.8M122.3 277.8h5.8M125.3 244.1V278.4M122.4 244.1h5.8M122.4 278.4h5.8M125.5 255.0V275.8M122.6 255.0h5.8M122.6 275.8h5.8M125.6 271.6V299.1M122.7 271.6h5.8M122.7 299.1h5.8M125.9 272.3V298.5M123.0 272.3h5.8M123.0 298.5h5.8M126.1 255.8V275.7M123.2 255.8h5.8M123.2 275.7h5.8M126.2 255.0V269.5M123.3 255.0h5.8M123.3 269.5h5.8M126.4 256.7V281.9M123.5 256.7h5.8M123.5 281.9h5.8M126.6 253.9V269.4M123.7 253.9h5.8M123.7 269.4h5.8M126.6 248.3V260.7M123.7 248.3h5.8M123.7 260.7h5.8M126.8 248.0V270.8M123.9 248.0h5.8M123.9 270.8h5.8M127.1 250.5V285.2M124.2 250.5h5.8M124.2 285.2h5.8M127.2 262.4V286.9M124.3 262.4h5.8M124.3 286.9h5.8M127.3 255.4V283.3M124.4 255.4h5.8M124.4 283.3h5.8M144.9 245.7V271.8M142.0 245.7h5.8M142.0 271.8h5.8M145.0 241.2V264.4M142.1 241.2h5.8M142.1 264.4h5.8M145.2 242.9V260.7M142.3 242.9h5.8M142.3 260.7h5.8M145.2 262.2V277.4M142.3 262.2h5.8M142.3 277.4h5.8M145.4 260.5V280.9M142.5 260.5h5.8M142.5 280.9h5.8M145.6 243.0V258.1M142.7 243.0h5.8M142.7 258.1h5.8M145.8 237.0V275.7M142.9 237.0h5.8M142.9 275.7h5.8M146.0 251.4V277.5M143.1 251.4h5.8M143.1 277.5h5.8M146.0 248.0V272.6M143.1 248.0h5.8M143.1 272.6h5.8M146.3 245.2V269.6M143.4 245.2h5.8M143.4 269.6h5.8M146.5 256.3V279.7M143.6 256.3h5.8M143.6 279.7h5.8M146.7 251.5V274.7M143.8 251.5h5.8M143.8 274.7h5.8M146.7 239.4V261.1M143.8 239.4h5.8M143.8 261.1h5.8M146.9 247.0V270.7M144.0 247.0h5.8M144.0 270.7h5.8M147.1 239.6V254.5M144.2 239.6h5.8M144.2 254.5h5.8M147.2 254.9V269.4M144.3 254.9h5.8M144.3 269.4h5.8M147.5 268.8V282.4M144.6 268.8h5.8M144.6 282.4h5.8M147.6 252.4V270.9M144.7 252.4h5.8M144.7 270.9h5.8M147.8 236.1V256.9M144.9 236.1h5.8M144.9 256.9h5.8M147.9 246.5V271.6M145.0 246.5h5.8M145.0 271.6h5.8M148.1 260.7V278.3M145.2 260.7h5.8M145.2 278.3h5.8M148.2 245.9V264.8M145.3 245.9h5.8M145.3 264.8h5.8M148.3 257.7V279.1M145.4 257.7h5.8M145.4 279.1h5.8M148.5 239.2V267.7M145.6 239.2h5.8M145.6 267.7h5.8M148.6 252.4V271.1M145.7 252.4h5.8M145.7 271.1h5.8M148.8 254.5V271.4M145.9 254.5h5.8M145.9 271.4h5.8M149.0 244.0V267.1M146.1 244.0h5.8M146.1 267.1h5.8M149.1 235.9V250.3M146.2 235.9h5.8M146.2 250.3h5.8M149.4 263.4V280.3M146.5 263.4h5.8M146.5 280.3h5.8M149.4 233.8V259.9M146.5 233.8h5.8M146.5 259.9h5.8M149.6 257.1V282.3M146.7 257.1h5.8M146.7 282.3h5.8M149.9 249.9V270.5M147.0 249.9h5.8M147.0 270.5h5.8M150.0 255.1V284.8M147.1 255.1h5.8M147.1 284.8h5.8M150.1 243.8V269.4M147.2 243.8h5.8M147.2 269.4h5.8M150.3 249.7V271.5M147.4 249.7h5.8M147.4 271.5h5.8M150.5 247.1V267.5M147.6 247.1h5.8M147.6 267.5h5.8M150.6 251.3V268.4M147.7 251.3h5.8M147.7 268.4h5.8M150.7 249.0V272.8M147.8 249.0h5.8M147.8 272.8h5.8M150.9 244.4V264.3M148.0 244.4h5.8M148.0 264.3h5.8M151.1 241.9V275.9M148.2 241.9h5.8M148.2 275.9h5.8M151.3 256.8V283.3M148.4 256.8h5.8M148.4 283.3h5.8M151.5 251.1V267.6M148.6 251.1h5.8M148.6 267.6h5.8M151.6 241.7V258.0M148.7 241.7h5.8M148.7 258.0h5.8M151.8 259.9V278.9M148.9 259.9h5.8M148.9 278.9h5.8M152.0 240.8V282.3M149.1 240.8h5.8M149.1 282.3h5.8M152.1 249.6V276.8M149.2 249.6h5.8M149.2 276.8h5.8M152.2 269.7V293.5M149.3 269.7h5.8M149.3 293.5h5.8M152.4 241.5V270.6M149.5 241.5h5.8M149.5 270.6h5.8M152.5 248.4V271.9M149.6 248.4h5.8M149.6 271.9h5.8M152.7 241.6V274.5M149.8 241.6h5.8M149.8 274.5h5.8M152.8 252.6V274.0M149.9 252.6h5.8M149.9 274.0h5.8M153.0 243.4V266.9M150.1 243.4h5.8M150.1 266.9h5.8M153.2 262.3V283.7M150.3 262.3h5.8M150.3 283.7h5.8M153.3 258.3V270.8M150.4 258.3h5.8M150.4 270.8h5.8M153.4 247.5V270.6M150.5 247.5h5.8M150.5 270.6h5.8M153.7 247.3V267.8M150.8 247.3h5.8M150.8 267.8h5.8M153.9 252.1V275.5M151.0 252.1h5.8M151.0 275.5h5.8M154.0 262.5V280.8M151.1 262.5h5.8M151.1 280.8h5.8M154.2 250.5V270.5M151.3 250.5h5.8M151.3 270.5h5.8M154.3 247.2V273.9M151.4 247.2h5.8M151.4 273.9h5.8M154.5 262.6V276.1M151.6 262.6h5.8M151.6 276.1h5.8M154.6 265.4V279.9M151.7 265.4h5.8M151.7 279.9h5.8M154.8 246.1V270.3M151.9 246.1h5.8M151.9 270.3h5.8M155.0 258.8V274.9M152.1 258.8h5.8M152.1 274.9h5.8M155.1 254.7V277.9M152.2 254.7h5.8M152.2 277.9h5.8M155.3 255.4V268.0M152.4 255.4h5.8M152.4 268.0h5.8M155.4 255.6V275.5M152.5 255.6h5.8M152.5 275.5h5.8M155.5 228.9V264.1M152.6 228.9h5.8M152.6 264.1h5.8M155.7 238.5V282.2M152.8 238.5h5.8M152.8 282.2h5.8M155.9 248.2V282.0M153.0 248.2h5.8M153.0 282.0h5.8M156.1 243.4V271.1M153.2 243.4h5.8M153.2 271.1h5.8M156.2 258.7V280.8M153.3 258.7h5.8M153.3 280.8h5.8M156.3 258.7V280.8M153.4 258.7h5.8M153.4 280.8h5.8M156.6 254.8V272.9M153.7 254.8h5.8M153.7 272.9h5.8M156.7 249.6V270.3M153.8 249.6h5.8M153.8 270.3h5.8M156.9 272.0V290.4M154.0 272.0h5.8M154.0 290.4h5.8M157.0 254.7V270.6M154.1 254.7h5.8M154.1 270.6h5.8M157.2 254.7V277.1M154.3 254.7h5.8M154.3 277.1h5.8M157.3 250.9V287.9M154.4 250.9h5.8M154.4 287.9h5.8M157.5 244.5V261.9M154.6 244.5h5.8M154.6 261.9h5.8M157.7 255.3V274.5M154.8 255.3h5.8M154.8 274.5h5.8M157.9 256.6V282.4M155.0 256.6h5.8M155.0 282.4h5.8M158.0 254.8V284.4M155.1 254.8h5.8M155.1 284.4h5.8M158.2 260.1V282.1M155.3 260.1h5.8M155.3 282.1h5.8M158.4 253.9V272.6M155.5 253.9h5.8M155.5 272.6h5.8M158.5 262.2V281.7M155.6 262.2h5.8M155.6 281.7h5.8M158.7 266.4V293.2M155.8 266.4h5.8M155.8 293.2h5.8M158.9 270.9V289.1M156.0 270.9h5.8M156.0 289.1h5.8M158.9 253.0V272.7M156.0 253.0h5.8M156.0 272.7h5.8M159.1 249.0V276.6M156.2 249.0h5.8M156.2 276.6h5.8M159.2 247.6V261.4M156.3 247.6h5.8M156.3 261.4h5.8M159.5 257.9V273.2M156.6 257.9h5.8M156.6 273.2h5.8M159.6 254.2V275.4M156.7 254.2h5.8M156.7 275.4h5.8M159.8 264.6V302.6M156.9 264.6h5.8M156.9 302.6h5.8M159.9 270.3V285.0M157.0 270.3h5.8M157.0 285.0h5.8M160.1 246.7V269.9M157.2 246.7h5.8M157.2 269.9h5.8M160.3 272.0V292.7M157.4 272.0h5.8M157.4 292.7h5.8M160.4 260.0V287.1M157.5 260.0h5.8M157.5 287.1h5.8M160.5 248.3V271.9M157.6 248.3h5.8M157.6 271.9h5.8M160.7 247.7V271.0M157.8 247.7h5.8M157.8 271.0h5.8M160.9 252.7V280.2M158.0 252.7h5.8M158.0 280.2h5.8M161.0 250.0V269.7M158.1 250.0h5.8M158.1 269.7h5.8M161.2 280.6V296.1M158.3 280.6h5.8M158.3 296.1h5.8M161.3 269.4V289.7M158.4 269.4h5.8M158.4 289.7h5.8M161.5 244.3V257.3M158.6 244.3h5.8M158.6 257.3h5.8M161.7 259.0V275.8M158.8 259.0h5.8M158.8 275.8h5.8M161.8 254.3V278.3M158.9 254.3h5.8M158.9 278.3h5.8M161.9 272.0V298.3M159.0 272.0h5.8M159.0 298.3h5.8M162.1 256.6V276.2M159.2 256.6h5.8M159.2 276.2h5.8M162.2 254.1V274.8M159.3 254.1h5.8M159.3 274.8h5.8M162.5 241.3V266.0M159.6 241.3h5.8M159.6 266.0h5.8M162.7 259.1V278.6M159.8 259.1h5.8M159.8 278.6h5.8M162.8 257.0V298.3M159.9 257.0h5.8M159.9 298.3h5.8M163.0 262.9V275.7M160.1 262.9h5.8M160.1 275.7h5.8M163.2 242.3V261.3M160.3 242.3h5.8M160.3 261.3h5.8M163.3 247.1V269.9M160.4 247.1h5.8M160.4 269.9h5.8M163.5 265.2V278.9M160.6 265.2h5.8M160.6 278.9h5.8M163.7 249.4V274.7M160.8 249.4h5.8M160.8 274.7h5.8M163.8 255.9V279.6M160.9 255.9h5.8M160.9 279.6h5.8M164.0 251.1V277.1M161.1 251.1h5.8M161.1 277.1h5.8M164.0 251.8V273.9M161.1 251.8h5.8M161.1 273.9h5.8M164.3 265.3V287.2M161.4 265.3h5.8M161.4 287.2h5.8M164.4 255.4V281.6M161.5 255.4h5.8M161.5 281.6h5.8M164.6 264.6V285.1M161.7 264.6h5.8M161.7 285.1h5.8M164.7 251.5V289.5M161.8 251.5h5.8M161.8 289.5h5.8M164.9 242.8V266.1M162.0 242.8h5.8M162.0 266.1h5.8M165.1 264.7V283.8M162.2 264.7h5.8M162.2 283.8h5.8M165.3 255.7V278.2M162.4 255.7h5.8M162.4 278.2h5.8M165.4 259.0V281.5M162.5 259.0h5.8M162.5 281.5h5.8M165.5 257.1V289.9M162.6 257.1h5.8M162.6 289.9h5.8M165.6 249.3V266.1M162.7 249.3h5.8M162.7 266.1h5.8M165.8 240.9V275.5M162.9 240.9h5.8M162.9 275.5h5.8M166.1 255.8V290.0M163.2 255.8h5.8M163.2 290.0h5.8M166.2 262.3V294.3M163.3 262.3h5.8M163.3 294.3h5.8M166.3 252.1V268.4M163.4 252.1h5.8M163.4 268.4h5.8M166.5 249.8V265.9M163.6 249.8h5.8M163.6 265.9h5.8M166.7 270.0V282.5M163.8 270.0h5.8M163.8 282.5h5.8M166.8 264.6V280.2M163.9 264.6h5.8M163.9 280.2h5.8M167.0 254.3V276.7M164.1 254.3h5.8M164.1 276.7h5.8M167.2 258.8V281.6M164.3 258.8h5.8M164.3 281.6h5.8M167.3 260.7V278.4M164.4 260.7h5.8M164.4 278.4h5.8M167.5 264.4V293.1M164.6 264.4h5.8M164.6 293.1h5.8M167.7 264.5V283.8M164.8 264.5h5.8M164.8 283.8h5.8M167.8 252.2V277.4M164.9 252.2h5.8M164.9 277.4h5.8M167.9 253.7V290.6M165.0 253.7h5.8M165.0 290.6h5.8M168.1 266.2V296.4M165.2 266.2h5.8M165.2 296.4h5.8M168.2 258.3V275.7M165.3 258.3h5.8M165.3 275.7h5.8M168.5 262.8V278.8M165.6 262.8h5.8M165.6 278.8h5.8M168.6 254.3V276.9M165.7 254.3h5.8M165.7 276.9h5.8M168.7 247.2V271.2M165.8 247.2h5.8M165.8 271.2h5.8M169.0 261.7V288.2M166.1 261.7h5.8M166.1 288.2h5.8M169.1 263.8V290.0M166.2 263.8h5.8M166.2 290.0h5.8M169.2 263.3V280.7M166.3 263.3h5.8M166.3 280.7h5.8M169.4 274.5V296.5M166.5 274.5h5.8M166.5 296.5h5.8M169.6 255.9V281.8M166.7 255.9h5.8M166.7 281.8h5.8M169.7 261.8V282.1M166.8 261.8h5.8M166.8 282.1h5.8M169.8 276.6V291.2M166.9 276.6h5.8M166.9 291.2h5.8M170.0 256.4V275.5M167.1 256.4h5.8M167.1 275.5h5.8M170.3 277.5V294.1M167.4 277.5h5.8M167.4 294.1h5.8M170.3 255.5V280.8M167.4 255.5h5.8M167.4 280.8h5.8M170.4 244.8V272.4M167.5 244.8h5.8M167.5 272.4h5.8M170.7 251.9V280.4M167.8 251.9h5.8M167.8 280.4h5.8M170.8 267.6V289.3M167.9 267.6h5.8M167.9 289.3h5.8M170.9 248.7V276.3M168.0 248.7h5.8M168.0 276.3h5.8M171.2 269.5V292.4M168.3 269.5h5.8M168.3 292.4h5.8M171.3 275.3V295.1M168.4 275.3h5.8M168.4 295.1h5.8M171.5 257.1V271.6M168.6 257.1h5.8M168.6 271.6h5.8M171.6 257.6V282.1M168.7 257.6h5.8M168.7 282.1h5.8M171.8 254.3V268.3M168.9 254.3h5.8M168.9 268.3h5.8M172.0 271.0V293.7M169.1 271.0h5.8M169.1 293.7h5.8M172.2 251.9V266.1M169.3 251.9h5.8M169.3 266.1h5.8M172.2 264.0V287.8M169.3 264.0h5.8M169.3 287.8h5.8M172.5 267.3V280.9M169.6 267.3h5.8M169.6 280.9h5.8M172.6 267.2V281.9M169.7 267.2h5.8M169.7 281.9h5.8M172.8 256.7V281.2M169.9 256.7h5.8M169.9 281.2h5.8M173.0 254.8V271.3M170.1 254.8h5.8M170.1 271.3h5.8M173.1 256.8V281.2M170.2 256.8h5.8M170.2 281.2h5.8M173.2 263.4V283.3M170.3 263.4h5.8M170.3 283.3h5.8M173.5 262.3V280.1M170.6 262.3h5.8M170.6 280.1h5.8M173.6 258.6V288.8M170.7 258.6h5.8M170.7 288.8h5.8M173.7 260.5V285.6M170.8 260.5h5.8M170.8 285.6h5.8M173.9 259.3V303.8M171.0 259.3h5.8M171.0 303.8h5.8M174.1 272.5V296.3M171.2 272.5h5.8M171.2 296.3h5.8M174.1 268.5V288.0M171.2 268.5h5.8M171.2 288.0h5.8M174.4 273.8V289.6M171.5 273.8h5.8M171.5 289.6h5.8M174.5 258.4V276.1M171.6 258.4h5.8M171.6 276.1h5.8M174.6 258.3V279.5M171.7 258.3h5.8M171.7 279.5h5.8M174.9 268.0V305.1M172.0 268.0h5.8M172.0 305.1h5.8M175.0 256.8V280.3M172.1 256.8h5.8M172.1 280.3h5.8M175.2 281.0V296.8M172.3 281.0h5.8M172.3 296.8h5.8M175.3 254.7V280.8M172.4 254.7h5.8M172.4 280.8h5.8M175.4 261.9V278.8M172.5 261.9h5.8M172.5 278.8h5.8M175.7 274.5V291.4M172.8 274.5h5.8M172.8 291.4h5.8M175.8 273.0V295.7M172.9 273.0h5.8M172.9 295.7h5.8M176.0 274.2V286.0M173.1 274.2h5.8M173.1 286.0h5.8M176.1 265.8V298.3M173.2 265.8h5.8M173.2 298.3h5.8M176.3 258.9V276.5M173.4 258.9h5.8M173.4 276.5h5.8M176.4 261.2V289.6M173.5 261.2h5.8M173.5 289.6h5.8M176.6 274.7V293.3M173.7 274.7h5.8M173.7 293.3h5.8M176.7 259.8V279.0M173.8 259.8h5.8M173.8 279.0h5.8M177.0 276.6V301.4M174.1 276.6h5.8M174.1 301.4h5.8M177.1 267.9V282.5M174.2 267.9h5.8M174.2 282.5h5.8M177.2 280.3V294.0M174.3 280.3h5.8M174.3 294.0h5.8M177.4 273.3V289.5M174.5 273.3h5.8M174.5 289.5h5.8M177.5 270.7V280.6M174.6 270.7h5.8M174.6 280.6h5.8M177.8 259.6V282.1M174.9 259.6h5.8M174.9 282.1h5.8M177.8 250.9V277.9M174.9 250.9h5.8M174.9 277.9h5.8M178.1 256.3V279.1M175.2 256.3h5.8M175.2 279.1h5.8M178.1 261.5V279.3M175.2 261.5h5.8M175.2 279.3h5.8M178.4 251.8V274.8M175.5 251.8h5.8M175.5 274.8h5.8M178.5 270.2V283.3M175.6 270.2h5.8M175.6 283.3h5.8M178.7 255.9V274.1M175.8 255.9h5.8M175.8 274.1h5.8M178.9 256.8V275.5M176.0 256.8h5.8M176.0 275.5h5.8M179.0 266.2V285.7M176.1 266.2h5.8M176.1 285.7h5.8M179.2 274.3V289.8M176.3 274.3h5.8M176.3 289.8h5.8M179.4 268.3V288.9M176.5 268.3h5.8M176.5 288.9h5.8M179.5 246.2V261.2M176.6 246.2h5.8M176.6 261.2h5.8M179.6 262.8V276.3M176.7 262.8h5.8M176.7 276.3h5.8M179.9 272.2V288.6M177.0 272.2h5.8M177.0 288.6h5.8M180.0 260.9V279.9M177.1 260.9h5.8M177.1 279.9h5.8M180.1 262.2V279.2M177.2 262.2h5.8M177.2 279.2h5.8M180.4 261.6V284.4M177.5 261.6h5.8M177.5 284.4h5.8M180.4 259.5V285.0M177.5 259.5h5.8M177.5 285.0h5.8M180.7 271.6V282.8M177.8 271.6h5.8M177.8 282.8h5.8M180.8 269.4V298.2M177.9 269.4h5.8M177.9 298.2h5.8M180.9 259.5V280.2M178.0 259.5h5.8M178.0 280.2h5.8M181.0 266.1V282.2M178.1 266.1h5.8M178.1 282.2h5.8M181.3 265.0V289.2M178.4 265.0h5.8M178.4 289.2h5.8M181.5 276.4V298.2M178.6 276.4h5.8M178.6 298.2h5.8M181.5 289.6V308.5M178.6 289.6h5.8M178.6 308.5h5.8M181.8 255.5V282.1M178.9 255.5h5.8M178.9 282.1h5.8M181.9 277.0V295.2M179.0 277.0h5.8M179.0 295.2h5.8M182.1 277.2V298.1M179.2 277.2h5.8M179.2 298.1h5.8M182.3 264.0V289.7M179.4 264.0h5.8M179.4 289.7h5.8M182.4 262.8V285.2M179.5 262.8h5.8M179.5 285.2h5.8M182.5 269.4V291.5M179.6 269.4h5.8M179.6 291.5h5.8M182.7 266.2V284.4M179.8 266.2h5.8M179.8 284.4h5.8M182.9 274.3V290.9M180.0 274.3h5.8M180.0 290.9h5.8M183.0 262.5V285.9M180.1 262.5h5.8M180.1 285.9h5.8M183.2 266.8V291.5M180.3 266.8h5.8M180.3 291.5h5.8M200.7 243.1V265.8M197.8 243.1h5.8M197.8 265.8h5.8M200.7 255.9V278.0M197.8 255.9h5.8M197.8 278.0h5.8M201.0 269.2V286.8M198.1 269.2h5.8M198.1 286.8h5.8M201.1 267.5V283.6M198.2 267.5h5.8M198.2 283.6h5.8M201.3 237.9V264.6M198.4 237.9h5.8M198.4 264.6h5.8M201.3 269.8V288.4M198.4 269.8h5.8M198.4 288.4h5.8M201.5 262.0V285.4M198.6 262.0h5.8M198.6 285.4h5.8M201.7 248.1V272.7M198.8 248.1h5.8M198.8 272.7h5.8M201.8 262.2V282.8M198.9 262.2h5.8M198.9 282.8h5.8M202.1 248.0V277.0M199.2 248.0h5.8M199.2 277.0h5.8M202.1 259.1V274.9M199.2 259.1h5.8M199.2 274.9h5.8M202.3 257.2V288.6M199.4 257.2h5.8M199.4 288.6h5.8M202.5 269.9V285.8M199.6 269.9h5.8M199.6 285.8h5.8M202.6 247.1V283.7M199.7 247.1h5.8M199.7 283.7h5.8M202.7 256.4V271.8M199.8 256.4h5.8M199.8 271.8h5.8M202.9 253.0V278.8M200.0 253.0h5.8M200.0 278.8h5.8M203.0 258.0V281.0M200.1 258.0h5.8M200.1 281.0h5.8M203.2 269.9V286.8M200.3 269.9h5.8M200.3 286.8h5.8M203.4 253.8V272.9M200.5 253.8h5.8M200.5 272.9h5.8M203.5 253.2V277.9M200.6 253.2h5.8M200.6 277.9h5.8M203.7 260.4V290.9M200.8 260.4h5.8M200.8 290.9h5.8M203.8 256.9V270.2M200.9 256.9h5.8M200.9 270.2h5.8M203.9 250.7V272.1M201.0 250.7h5.8M201.0 272.1h5.8M204.2 272.3V284.3M201.3 272.3h5.8M201.3 284.3h5.8M204.3 248.9V280.0M201.4 248.9h5.8M201.4 280.0h5.8M204.5 263.5V284.5M201.6 263.5h5.8M201.6 284.5h5.8M204.5 251.9V263.5M201.6 251.9h5.8M201.6 263.5h5.8M204.8 274.5V291.3M201.9 274.5h5.8M201.9 291.3h5.8M205.0 259.5V291.6M202.1 259.5h5.8M202.1 291.6h5.8M205.1 260.6V272.4M202.2 260.6h5.8M202.2 272.4h5.8M205.2 245.8V274.6M202.3 245.8h5.8M202.3 274.6h5.8M205.3 267.6V285.2M202.4 267.6h5.8M202.4 285.2h5.8M205.6 253.8V274.6M202.7 253.8h5.8M202.7 274.6h5.8M205.7 263.1V278.8M202.8 263.1h5.8M202.8 278.8h5.8M205.9 253.0V281.4M203.0 253.0h5.8M203.0 281.4h5.8M206.0 253.6V274.5M203.1 253.6h5.8M203.1 274.5h5.8M206.1 262.9V284.0M203.2 262.9h5.8M203.2 284.0h5.8M206.3 253.4V268.1M203.4 253.4h5.8M203.4 268.1h5.8M206.4 265.0V279.4M203.5 265.0h5.8M203.5 279.4h5.8M206.6 276.2V295.2M203.7 276.2h5.8M203.7 295.2h5.8M206.8 232.7V257.1M203.9 232.7h5.8M203.9 257.1h5.8M207.0 252.5V264.3M204.1 252.5h5.8M204.1 264.3h5.8M207.1 251.9V263.8M204.2 251.9h5.8M204.2 263.8h5.8M207.2 254.0V277.1M204.3 254.0h5.8M204.3 277.1h5.8M207.5 261.2V275.6M204.6 261.2h5.8M204.6 275.6h5.8M207.5 257.0V273.6M204.6 257.0h5.8M204.6 273.6h5.8M207.7 254.3V267.3M204.8 254.3h5.8M204.8 267.3h5.8M207.8 260.3V279.4M204.9 260.3h5.8M204.9 279.4h5.8M208.1 258.7V283.5M205.2 258.7h5.8M205.2 283.5h5.8M208.2 230.2V261.8M205.3 230.2h5.8M205.3 261.8h5.8M208.4 261.2V282.4M205.5 261.2h5.8M205.5 282.4h5.8M208.5 268.4V291.6M205.6 268.4h5.8M205.6 291.6h5.8M208.6 253.6V269.5M205.7 253.6h5.8M205.7 269.5h5.8M208.8 255.8V292.5M205.9 255.8h5.8M205.9 292.5h5.8M208.9 261.1V281.7M206.0 261.1h5.8M206.0 281.7h5.8M209.0 259.0V273.0M206.1 259.0h5.8M206.1 273.0h5.8M209.3 238.4V272.8M206.4 238.4h5.8M206.4 272.8h5.8M209.4 250.0V268.1M206.5 250.0h5.8M206.5 268.1h5.8M209.5 243.0V261.7M206.6 243.0h5.8M206.6 261.7h5.8M209.8 250.4V279.8M206.9 250.4h5.8M206.9 279.8h5.8M209.8 271.1V287.0M206.9 271.1h5.8M206.9 287.0h5.8M210.1 268.2V286.2M207.2 268.2h5.8M207.2 286.2h5.8M210.1 254.7V276.2M207.2 254.7h5.8M207.2 276.2h5.8M210.4 260.7V271.6M207.5 260.7h5.8M207.5 271.6h5.8M210.4 252.4V268.6M207.5 252.4h5.8M207.5 268.6h5.8M210.6 247.6V276.1M207.7 247.6h5.8M207.7 276.1h5.8M210.8 269.8V291.8M207.9 269.8h5.8M207.9 291.8h5.8M210.9 248.6V272.7M208.0 248.6h5.8M208.0 272.7h5.8M211.1 252.7V271.7M208.2 252.7h5.8M208.2 271.7h5.8M211.2 266.2V286.7M208.3 266.2h5.8M208.3 286.7h5.8M211.4 260.1V271.2M208.5 260.1h5.8M208.5 271.2h5.8M211.5 248.2V276.2M208.6 248.2h5.8M208.6 276.2h5.8M211.7 264.6V290.1M208.8 264.6h5.8M208.8 290.1h5.8M211.8 255.2V265.2M208.9 255.2h5.8M208.9 265.2h5.8M212.1 250.6V267.8M209.2 250.6h5.8M209.2 267.8h5.8M212.2 254.5V271.9M209.3 254.5h5.8M209.3 271.9h5.8M212.3 249.1V269.3M209.4 249.1h5.8M209.4 269.3h5.8M212.5 257.0V284.6M209.6 257.0h5.8M209.6 284.6h5.8M212.6 268.5V283.2M209.7 268.5h5.8M209.7 283.2h5.8M212.8 253.4V269.7M209.9 253.4h5.8M209.9 269.7h5.8M212.9 259.4V288.5M210.0 259.4h5.8M210.0 288.5h5.8M213.1 271.7V299.4M210.2 271.7h5.8M210.2 299.4h5.8M213.2 260.5V277.4M210.3 260.5h5.8M210.3 277.4h5.8M213.4 289.7V307.7M210.5 289.7h5.8M210.5 307.7h5.8M213.6 237.9V259.1M210.7 237.9h5.8M210.7 259.1h5.8M213.7 245.7V264.6M210.8 245.7h5.8M210.8 264.6h5.8M213.9 249.8V274.5M211.0 249.8h5.8M211.0 274.5h5.8M214.0 255.6V281.1M211.1 255.6h5.8M211.1 281.1h5.8M214.1 250.2V272.1M211.2 250.2h5.8M211.2 272.1h5.8M214.4 260.0V279.1M211.5 260.0h5.8M211.5 279.1h5.8M214.5 240.6V260.4M211.6 240.6h5.8M211.6 260.4h5.8M214.6 261.7V286.7M211.7 261.7h5.8M211.7 286.7h5.8M214.8 264.0V278.7M211.9 264.0h5.8M211.9 278.7h5.8M214.9 266.6V285.6M212.0 266.6h5.8M212.0 285.6h5.8M215.1 250.3V273.0M212.2 250.3h5.8M212.2 273.0h5.8M215.3 255.9V277.2M212.4 255.9h5.8M212.4 277.2h5.8M215.4 262.6V281.0M212.5 262.6h5.8M212.5 281.0h5.8M215.6 251.7V278.5M212.7 251.7h5.8M212.7 278.5h5.8M215.8 246.2V266.0M212.9 246.2h5.8M212.9 266.0h5.8M215.9 251.2V283.3M213.0 251.2h5.8M213.0 283.3h5.8M216.0 254.4V275.3M213.1 254.4h5.8M213.1 275.3h5.8M216.3 254.8V278.2M213.4 254.8h5.8M213.4 278.2h5.8M216.3 258.9V275.3M213.4 258.9h5.8M213.4 275.3h5.8M216.5 242.4V261.4M213.6 242.4h5.8M213.6 261.4h5.8M216.7 256.3V270.5M213.8 256.3h5.8M213.8 270.5h5.8M216.8 247.8V272.5M213.9 247.8h5.8M213.9 272.5h5.8M216.9 253.1V268.0M214.0 253.1h5.8M214.0 268.0h5.8M217.1 270.4V289.3M214.2 270.4h5.8M214.2 289.3h5.8M217.2 265.2V287.0M214.3 265.2h5.8M214.3 287.0h5.8M217.4 261.8V291.0M214.5 261.8h5.8M214.5 291.0h5.8M217.5 261.5V273.3M214.6 261.5h5.8M214.6 273.3h5.8M217.7 254.4V293.0M214.8 254.4h5.8M214.8 293.0h5.8M217.8 246.3V266.6M214.9 246.3h5.8M214.9 266.6h5.8M218.0 274.2V290.2M215.1 274.2h5.8M215.1 290.2h5.8M218.2 245.9V266.6M215.3 245.9h5.8M215.3 266.6h5.8M218.4 252.6V272.4M215.5 252.6h5.8M215.5 272.4h5.8M218.6 270.4V283.1M215.7 270.4h5.8M215.7 283.1h5.8M218.6 274.5V291.4M215.7 274.5h5.8M215.7 291.4h5.8M218.8 258.2V284.6M215.9 258.2h5.8M215.9 284.6h5.8M219.0 265.6V294.6M216.1 265.6h5.8M216.1 294.6h5.8M219.1 262.6V277.8M216.2 262.6h5.8M216.2 277.8h5.8M219.2 253.5V274.4M216.3 253.5h5.8M216.3 274.4h5.8M219.5 241.8V286.3M216.6 241.8h5.8M216.6 286.3h5.8M219.7 265.7V297.6M216.8 265.7h5.8M216.8 297.6h5.8M219.7 262.7V283.5M216.8 262.7h5.8M216.8 283.5h5.8M219.9 262.7V282.5M217.0 262.7h5.8M217.0 282.5h5.8M220.0 257.6V272.0M217.1 257.6h5.8M217.1 272.0h5.8M220.2 251.7V270.7M217.3 251.7h5.8M217.3 270.7h5.8M220.3 247.3V269.2M217.4 247.3h5.8M217.4 269.2h5.8M220.5 262.7V278.9M217.6 262.7h5.8M217.6 278.9h5.8M220.7 246.5V275.2M217.8 246.5h5.8M217.8 275.2h5.8M220.8 257.9V275.0M217.9 257.9h5.8M217.9 275.0h5.8M221.0 257.5V276.9M218.1 257.5h5.8M218.1 276.9h5.8M221.2 253.5V298.0M218.3 253.5h5.8M218.3 298.0h5.8M221.2 262.9V280.3M218.3 262.9h5.8M218.3 280.3h5.8M221.4 274.2V287.2M218.5 274.2h5.8M218.5 287.2h5.8M221.6 262.1V272.8M218.7 262.1h5.8M218.7 272.8h5.8M221.8 273.9V286.5M218.9 273.9h5.8M218.9 286.5h5.8M221.9 252.2V294.7M219.0 252.2h5.8M219.0 294.7h5.8M222.0 256.9V284.1M219.1 256.9h5.8M219.1 284.1h5.8M222.2 236.7V260.9M219.3 236.7h5.8M219.3 260.9h5.8M222.3 265.1V294.7M219.4 265.1h5.8M219.4 294.7h5.8M222.5 235.6V280.1M219.6 235.6h5.8M219.6 280.1h5.8M222.7 262.2V277.2M219.8 262.2h5.8M219.8 277.2h5.8M222.8 249.6V265.2M219.9 249.6h5.8M219.9 265.2h5.8M223.0 269.2V291.0M220.1 269.2h5.8M220.1 291.0h5.8M223.1 243.4V267.0M220.2 243.4h5.8M220.2 267.0h5.8M223.3 254.3V285.5M220.4 254.3h5.8M220.4 285.5h5.8M223.5 262.3V274.5M220.6 262.3h5.8M220.6 274.5h5.8M223.6 255.3V269.9M220.7 255.3h5.8M220.7 269.9h5.8M223.8 246.8V269.2M220.9 246.8h5.8M220.9 269.2h5.8M223.9 251.4V269.8M221.0 251.4h5.8M221.0 269.8h5.8M224.1 244.4V265.9M221.2 244.4h5.8M221.2 265.9h5.8M224.2 251.6V273.8M221.3 251.6h5.8M221.3 273.8h5.8M224.3 269.3V288.1M221.4 269.3h5.8M221.4 288.1h5.8M224.6 253.7V269.5M221.7 253.7h5.8M221.7 269.5h5.8M224.7 271.7V297.6M221.8 271.7h5.8M221.8 297.6h5.8M224.9 260.4V288.1M222.0 260.4h5.8M222.0 288.1h5.8M224.9 255.3V278.2M222.0 255.3h5.8M222.0 278.2h5.8M225.2 247.3V263.4M222.3 247.3h5.8M222.3 263.4h5.8M225.3 251.8V267.8M222.4 251.8h5.8M222.4 267.8h5.8M225.4 264.8V277.6M222.5 264.8h5.8M222.5 277.6h5.8M225.6 254.6V267.6M222.7 254.6h5.8M222.7 267.6h5.8M225.7 249.6V271.8M222.8 249.6h5.8M222.8 271.8h5.8M225.9 257.0V283.8M223.0 257.0h5.8M223.0 283.8h5.8M226.1 250.4V282.5M223.2 250.4h5.8M223.2 282.5h5.8M226.2 243.1V272.4M223.3 243.1h5.8M223.3 272.4h5.8M226.4 247.1V278.8M223.5 247.1h5.8M223.5 278.8h5.8M226.6 267.5V287.7M223.7 267.5h5.8M223.7 287.7h5.8M226.7 263.7V279.4M223.8 263.7h5.8M223.8 279.4h5.8M226.9 263.5V276.3M224.0 263.5h5.8M224.0 276.3h5.8M226.9 257.9V295.2M224.0 257.9h5.8M224.0 295.2h5.8M227.1 269.5V289.7M224.2 269.5h5.8M224.2 289.7h5.8M227.2 264.8V278.9M224.3 264.8h5.8M224.3 278.9h5.8M227.4 262.9V276.4M224.5 262.9h5.8M224.5 276.4h5.8M227.6 251.8V268.0M224.7 251.8h5.8M224.7 268.0h5.8M227.8 261.0V284.9M224.9 261.0h5.8M224.9 284.9h5.8M227.9 242.9V269.8M225.0 242.9h5.8M225.0 269.8h5.8M228.0 268.7V294.1M225.1 268.7h5.8M225.1 294.1h5.8M228.2 287.3V303.7M225.3 287.3h5.8M225.3 303.7h5.8M228.3 248.7V278.4M225.4 248.7h5.8M225.4 278.4h5.8M228.6 253.0V279.1M225.7 253.0h5.8M225.7 279.1h5.8M228.7 259.9V282.8M225.8 259.9h5.8M225.8 282.8h5.8M228.9 246.6V279.8M226.0 246.6h5.8M226.0 279.8h5.8M229.0 254.6V272.6M226.1 254.6h5.8M226.1 272.6h5.8M229.1 255.6V272.8M226.2 255.6h5.8M226.2 272.8h5.8M229.3 250.4V283.9M226.4 250.4h5.8M226.4 283.9h5.8M229.5 247.9V264.2M226.6 247.9h5.8M226.6 264.2h5.8M229.5 257.2V269.2M226.6 257.2h5.8M226.6 269.2h5.8M229.8 262.4V286.9M226.9 262.4h5.8M226.9 286.9h5.8M229.9 243.7V264.6M227.0 243.7h5.8M227.0 264.6h5.8M230.1 240.9V264.7M227.2 240.9h5.8M227.2 264.7h5.8M230.3 277.4V297.5M227.4 277.4h5.8M227.4 297.5h5.8M230.5 232.5V256.3M227.6 232.5h5.8M227.6 256.3h5.8M230.5 268.6V287.5M227.6 268.6h5.8M227.6 287.5h5.8M230.6 257.1V284.4M227.7 257.1h5.8M227.7 284.4h5.8M230.8 254.7V279.8M227.9 254.7h5.8M227.9 279.8h5.8M231.0 256.7V280.1M228.1 256.7h5.8M228.1 280.1h5.8M231.2 255.0V268.2M228.3 255.0h5.8M228.3 268.2h5.8M231.4 245.9V270.9M228.5 245.9h5.8M228.5 270.9h5.8M231.4 260.0V278.5M228.5 260.0h5.8M228.5 278.5h5.8M231.6 252.5V291.8M228.7 252.5h5.8M228.7 291.8h5.8M231.8 261.7V279.5M228.9 261.7h5.8M228.9 279.5h5.8M231.9 249.2V282.0M229.0 249.2h5.8M229.0 282.0h5.8M232.2 245.1V267.8M229.3 245.1h5.8M229.3 267.8h5.8M232.3 254.0V279.1M229.4 254.0h5.8M229.4 279.1h5.8M232.4 254.0V273.4M229.5 254.0h5.8M229.5 273.4h5.8M232.6 246.7V277.1M229.7 246.7h5.8M229.7 277.1h5.8M232.7 251.5V284.4M229.8 251.5h5.8M229.8 284.4h5.8M232.8 267.9V289.3M229.9 267.9h5.8M229.9 289.3h5.8M233.0 257.4V271.2M230.1 257.4h5.8M230.1 271.2h5.8M233.1 253.7V265.2M230.2 253.7h5.8M230.2 265.2h5.8M233.3 255.4V275.9M230.4 255.4h5.8M230.4 275.9h5.8M233.4 242.2V259.1M230.5 242.2h5.8M230.5 259.1h5.8M233.7 262.1V282.5M230.8 262.1h5.8M230.8 282.5h5.8M233.8 255.6V284.6M230.9 255.6h5.8M230.9 284.6h5.8M233.9 260.3V287.8M231.0 260.3h5.8M231.0 287.8h5.8M234.1 248.1V263.4M231.2 248.1h5.8M231.2 263.4h5.8M234.2 250.9V274.8M231.3 250.9h5.8M231.3 274.8h5.8M234.4 262.5V282.3M231.5 262.5h5.8M231.5 282.3h5.8M234.5 246.7V291.2M231.6 246.7h5.8M231.6 291.2h5.8M234.8 251.1V280.1M231.9 251.1h5.8M231.9 280.1h5.8M234.8 235.9V250.7M231.9 235.9h5.8M231.9 250.7h5.8M235.1 245.2V280.1M232.2 245.2h5.8M232.2 280.1h5.8M235.2 244.0V255.6M232.3 244.0h5.8M232.3 255.6h5.8M235.3 247.1V270.8M232.4 247.1h5.8M232.4 270.8h5.8M235.5 242.5V262.2M232.6 242.5h5.8M232.6 262.2h5.8M235.7 247.7V273.7M232.8 247.7h5.8M232.8 273.7h5.8M235.8 262.4V284.4M232.9 262.4h5.8M232.9 284.4h5.8M235.9 243.9V257.9M233.0 243.9h5.8M233.0 257.9h5.8M236.1 253.8V293.1M233.2 253.8h5.8M233.2 293.1h5.8M236.2 263.0V278.4M233.3 263.0h5.8M233.3 278.4h5.8M236.4 244.9V263.9M233.5 244.9h5.8M233.5 263.9h5.8M236.5 242.3V261.9M233.6 242.3h5.8M233.6 261.9h5.8M236.7 249.5V268.1M233.8 249.5h5.8M233.8 268.1h5.8M236.8 252.5V271.6M233.9 252.5h5.8M233.9 271.6h5.8M237.1 248.0V281.5M234.2 248.0h5.8M234.2 281.5h5.8M237.2 255.6V273.5M234.3 255.6h5.8M234.3 273.5h5.8M237.3 268.3V280.7M234.4 268.3h5.8M234.4 280.7h5.8M237.4 248.2V279.2M234.5 248.2h5.8M234.5 279.2h5.8M255.0 252.2V274.7M252.1 252.2h5.8M252.1 274.7h5.8M255.1 252.2V271.2M252.2 252.2h5.8M252.2 271.2h5.8M255.3 251.4V274.5M252.4 251.4h5.8M252.4 274.5h5.8M255.3 246.8V274.2M252.4 246.8h5.8M252.4 274.2h5.8M255.5 234.6V250.2M252.6 234.6h5.8M252.6 250.2h5.8M255.6 264.2V286.7M252.7 264.2h5.8M252.7 286.7h5.8M255.6 282.4V303.0M252.7 282.4h5.8M252.7 303.0h5.8M255.7 260.4V285.3M252.8 260.4h5.8M252.8 285.3h5.8M255.9 251.6V269.8M253.0 251.6h5.8M253.0 269.8h5.8M256.0 266.6V291.6M253.1 266.6h5.8M253.1 291.6h5.8M256.1 284.8V309.4M253.2 284.8h5.8M253.2 309.4h5.8M256.2 242.1V260.5M253.3 242.1h5.8M253.3 260.5h5.8M256.3 260.1V289.0M253.4 260.1h5.8M253.4 289.0h5.8M256.4 236.2V266.2M253.5 236.2h5.8M253.5 266.2h5.8M256.6 259.4V279.2M253.7 259.4h5.8M253.7 279.2h5.8M256.7 273.9V295.2M253.8 273.9h5.8M253.8 295.2h5.8M256.8 248.8V275.3M253.9 248.8h5.8M253.9 275.3h5.8M256.9 241.0V258.8M254.0 241.0h5.8M254.0 258.8h5.8M257.0 266.6V289.4M254.1 266.6h5.8M254.1 289.4h5.8M257.1 250.8V284.4M254.2 250.8h5.8M254.2 284.4h5.8M257.1 271.0V290.3M254.2 271.0h5.8M254.2 290.3h5.8M257.3 255.2V276.6M254.4 255.2h5.8M254.4 276.6h5.8M257.4 246.9V273.5M254.5 246.9h5.8M254.5 273.5h5.8M257.5 264.3V286.2M254.6 264.3h5.8M254.6 286.2h5.8M257.6 271.9V291.1M254.7 271.9h5.8M254.7 291.1h5.8M257.7 276.3V304.2M254.8 276.3h5.8M254.8 304.2h5.8M257.8 270.0V289.2M254.9 270.0h5.8M254.9 289.2h5.8M257.9 276.6V299.1M255.0 276.6h5.8M255.0 299.1h5.8M258.0 236.0V265.6M255.1 236.0h5.8M255.1 265.6h5.8M258.2 277.7V301.1M255.3 277.7h5.8M255.3 301.1h5.8M258.3 253.3V281.0M255.4 253.3h5.8M255.4 281.0h5.8M258.4 251.8V274.6M255.5 251.8h5.8M255.5 274.6h5.8M258.5 255.4V294.9M255.6 255.4h5.8M255.6 294.9h5.8M258.6 229.5V262.0M255.7 229.5h5.8M255.7 262.0h5.8M258.6 270.4V287.7M255.7 270.4h5.8M255.7 287.7h5.8M258.8 243.1V270.3M255.9 243.1h5.8M255.9 270.3h5.8M258.9 264.8V290.6M256.0 264.8h5.8M256.0 290.6h5.8M259.0 277.0V297.6M256.1 277.0h5.8M256.1 297.6h5.8M259.1 257.1V291.0M256.2 257.1h5.8M256.2 291.0h5.8M259.2 256.1V288.6M256.3 256.1h5.8M256.3 288.6h5.8M388.0 269.2V285.2M385.1 269.2h5.8M385.1 285.2h5.8M388.0 271.7V306.7M385.1 271.7h5.8M385.1 306.7h5.8M388.1 271.0V291.2M385.2 271.0h5.8M385.2 291.2h5.8M388.2 259.0V276.7M385.3 259.0h5.8M385.3 276.7h5.8M388.3 255.7V282.1M385.4 255.7h5.8M385.4 282.1h5.8M388.4 283.1V298.4M385.5 283.1h5.8M385.5 298.4h5.8M388.4 250.6V280.7M385.5 250.6h5.8M385.5 280.7h5.8M388.5 260.8V298.2M385.6 260.8h5.8M385.6 298.2h5.8M388.6 263.4V287.3M385.7 263.4h5.8M385.7 287.3h5.8M388.7 281.9V317.8M385.8 281.9h5.8M385.8 317.8h5.8M388.8 271.5V288.6M385.9 271.5h5.8M385.9 288.6h5.8M388.8 257.9V279.5M385.9 257.9h5.8M385.9 279.5h5.8M388.9 234.7V261.7M386.0 234.7h5.8M386.0 261.7h5.8M389.0 245.2V291.1M386.1 245.2h5.8M386.1 291.1h5.8M389.1 262.6V277.1M386.2 262.6h5.8M386.2 277.1h5.8M389.1 270.0V286.3M386.2 270.0h5.8M386.2 286.3h5.8M389.3 264.7V286.2M386.4 264.7h5.8M386.4 286.2h5.8M389.3 278.0V299.7M386.4 278.0h5.8M386.4 299.7h5.8M389.4 271.1V298.0M386.5 271.1h5.8M386.5 298.0h5.8M389.5 274.2V287.8M386.6 274.2h5.8M386.6 287.8h5.8M389.6 269.7V299.0M386.7 269.7h5.8M386.7 299.0h5.8M389.6 256.1V284.3M386.7 256.1h5.8M386.7 284.3h5.8M389.7 259.9V281.7M386.8 259.9h5.8M386.8 281.7h5.8M389.8 261.8V290.0M386.9 261.8h5.8M386.9 290.0h5.8M389.9 267.4V283.7M387.0 267.4h5.8M387.0 283.7h5.8M390.0 250.5V269.7M387.1 250.5h5.8M387.1 269.7h5.8M390.1 277.6V299.8M387.2 277.6h5.8M387.2 299.8h5.8M390.1 260.9V275.9M387.2 260.9h5.8M387.2 275.9h5.8M390.2 256.5V279.1M387.3 256.5h5.8M387.3 279.1h5.8M390.3 256.0V295.7M387.4 256.0h5.8M387.4 295.7h5.8M390.4 254.0V283.4M387.5 254.0h5.8M387.5 283.4h5.8M390.5 250.3V276.9M387.6 250.3h5.8M387.6 276.9h5.8M390.5 275.0V300.4M387.6 275.0h5.8M387.6 300.4h5.8M390.6 266.8V295.2M387.7 266.8h5.8M387.7 295.2h5.8M390.7 255.7V274.5M387.8 255.7h5.8M387.8 274.5h5.8M390.8 254.2V274.2M387.9 254.2h5.8M387.9 274.2h5.8M390.9 245.0V272.8M388.0 245.0h5.8M388.0 272.8h5.8M391.0 282.1V302.9M388.1 282.1h5.8M388.1 302.9h5.8M391.0 261.4V288.7M388.1 261.4h5.8M388.1 288.7h5.8M391.1 262.0V274.1M388.2 262.0h5.8M388.2 274.1h5.8M391.1 255.4V284.8M388.2 255.4h5.8M388.2 284.8h5.8M391.2 246.1V256.8M388.3 246.1h5.8M388.3 256.8h5.8M391.3 280.8V293.1M388.4 280.8h5.8M388.4 293.1h5.8M391.4 265.4V291.9M388.5 265.4h5.8M388.5 291.9h5.8M391.5 236.7V260.8M388.6 236.7h5.8M388.6 260.8h5.8M391.6 236.6V274.5M388.7 236.6h5.8M388.7 274.5h5.8M391.7 258.3V284.8M388.8 258.3h5.8M388.8 284.8h5.8M391.7 275.0V301.9M388.8 275.0h5.8M388.8 301.9h5.8M391.8 264.6V284.2M388.9 264.6h5.8M388.9 284.2h5.8M391.9 237.0V287.4M389.0 237.0h5.8M389.0 287.4h5.8M392.0 283.1V304.2M389.1 283.1h5.8M389.1 304.2h5.8M392.1 264.3V284.9M389.2 264.3h5.8M389.2 284.9h5.8M392.2 294.4V305.2M389.3 294.4h5.8M389.3 305.2h5.8M392.3 262.1V284.1M389.4 262.1h5.8M389.4 284.1h5.8M392.3 278.4V293.8M389.4 278.4h5.8M389.4 293.8h5.8M392.4 261.8V277.5M389.5 261.8h5.8M389.5 277.5h5.8M392.4 257.8V280.8M389.5 257.8h5.8M389.5 280.8h5.8M392.6 243.2V262.9M389.7 243.2h5.8M389.7 262.9h5.8M392.6 243.2V270.3M389.7 243.2h5.8M389.7 270.3h5.8M392.7 267.7V294.9M389.8 267.7h5.8M389.8 294.9h5.8M392.8 239.7V271.2M389.9 239.7h5.8M389.9 271.2h5.8M392.8 260.2V275.9M389.9 260.2h5.8M389.9 275.9h5.8M393.0 253.0V281.8M390.1 253.0h5.8M390.1 281.8h5.8M393.1 277.2V290.2M390.2 277.2h5.8M390.2 290.2h5.8M393.1 248.5V276.5M390.2 248.5h5.8M390.2 276.5h5.8M393.2 284.9V309.5M390.3 284.9h5.8M390.3 309.5h5.8M393.3 301.5V321.0M390.4 301.5h5.8M390.4 321.0h5.8M393.3 251.4V279.0M390.4 251.4h5.8M390.4 279.0h5.8M393.4 237.9V258.6M390.5 237.9h5.8M390.5 258.6h5.8M393.5 263.0V273.8M390.6 263.0h5.8M390.6 273.8h5.8M393.6 253.5V273.7M390.7 253.5h5.8M390.7 273.7h5.8M393.6 246.7V276.7M390.7 246.7h5.8M390.7 276.7h5.8M393.7 245.4V273.7M390.8 245.4h5.8M390.8 273.7h5.8M393.8 265.2V285.6M390.9 265.2h5.8M390.9 285.6h5.8M393.9 289.9V306.4M391.0 289.9h5.8M391.0 306.4h5.8M394.0 237.5V277.2M391.1 237.5h5.8M391.1 277.2h5.8M394.1 280.7V294.7M391.2 280.7h5.8M391.2 294.7h5.8M394.2 273.0V304.1M391.3 273.0h5.8M391.3 304.1h5.8M394.2 252.0V266.0M391.3 252.0h5.8M391.3 266.0h5.8M394.3 284.1V292.9M391.4 284.1h5.8M391.4 292.9h5.8M394.4 267.0V284.4M391.5 267.0h5.8M391.5 284.4h5.8M394.5 257.5V277.9M391.6 257.5h5.8M391.6 277.9h5.8M394.5 259.9V277.3M391.6 259.9h5.8M391.6 277.3h5.8M394.6 270.2V280.8M391.7 270.2h5.8M391.7 280.8h5.8M394.7 265.2V289.1M391.8 265.2h5.8M391.8 289.1h5.8M394.8 250.5V271.6M391.9 250.5h5.8M391.9 271.6h5.8M394.9 245.1V266.2M392.0 245.1h5.8M392.0 266.2h5.8M395.0 240.6V280.4M392.1 240.6h5.8M392.1 280.4h5.8M395.1 276.5V291.5M392.2 276.5h5.8M392.2 291.5h5.8M395.1 256.8V283.5M392.2 256.8h5.8M392.2 283.5h5.8M395.2 281.2V306.8M392.3 281.2h5.8M392.3 306.8h5.8M395.2 253.4V281.2M392.3 253.4h5.8M392.3 281.2h5.8M395.4 257.0V283.0M392.5 257.0h5.8M392.5 283.0h5.8M395.4 255.0V278.0M392.5 255.0h5.8M392.5 278.0h5.8M395.5 257.3V276.9M392.6 257.3h5.8M392.6 276.9h5.8M395.6 261.4V289.5M392.7 261.4h5.8M392.7 289.5h5.8M395.7 265.2V291.9M392.8 265.2h5.8M392.8 291.9h5.8M395.7 274.2V300.6M392.8 274.2h5.8M392.8 300.6h5.8M395.8 274.3V293.7M392.9 274.3h5.8M392.9 293.7h5.8M395.9 259.5V277.2M393.0 259.5h5.8M393.0 277.2h5.8M396.0 281.2V294.4M393.1 281.2h5.8M393.1 294.4h5.8M396.1 241.3V279.7M393.2 241.3h5.8M393.2 279.7h5.8M396.1 253.0V300.4M393.2 253.0h5.8M393.2 300.4h5.8M396.2 276.0V285.9M393.3 276.0h5.8M393.3 285.9h5.8M396.3 251.4V279.1M393.4 251.4h5.8M393.4 279.1h5.8M396.4 272.2V290.0M393.5 272.2h5.8M393.5 290.0h5.8M396.5 245.5V263.0M393.6 245.5h5.8M393.6 263.0h5.8M396.6 262.3V279.6M393.7 262.3h5.8M393.7 279.6h5.8M396.6 252.9V264.6M393.7 252.9h5.8M393.7 264.6h5.8M396.7 265.4V286.9M393.8 265.4h5.8M393.8 286.9h5.8M396.8 251.1V270.3M393.9 251.1h5.8M393.9 270.3h5.8M396.8 247.6V260.1M393.9 247.6h5.8M393.9 260.1h5.8M397.0 269.3V287.8M394.1 269.3h5.8M394.1 287.8h5.8M397.1 266.2V293.8M394.2 266.2h5.8M394.2 293.8h5.8M397.1 241.9V280.9M394.2 241.9h5.8M394.2 280.9h5.8M397.2 258.1V286.9M394.3 258.1h5.8M394.3 286.9h5.8M397.3 255.6V275.0M394.4 255.6h5.8M394.4 275.0h5.8M397.4 244.5V268.0M394.5 244.5h5.8M394.5 268.0h5.8M397.4 254.3V284.5M394.5 254.3h5.8M394.5 284.5h5.8M397.5 271.5V294.8M394.6 271.5h5.8M394.6 294.8h5.8M397.6 261.7V275.9M394.7 261.7h5.8M394.7 275.9h5.8M397.7 258.8V283.4M394.8 258.8h5.8M394.8 283.4h5.8M397.7 269.5V283.7M394.8 269.5h5.8M394.8 283.7h5.8M397.8 256.6V270.8M394.9 256.6h5.8M394.9 270.8h5.8M398.0 289.5V309.4M395.1 289.5h5.8M395.1 309.4h5.8M398.0 268.3V299.7M395.1 268.3h5.8M395.1 299.7h5.8M398.1 257.1V277.3M395.2 257.1h5.8M395.2 277.3h5.8M398.2 237.3V261.2M395.3 237.3h5.8M395.3 261.2h5.8M398.2 268.2V282.5M395.3 268.2h5.8M395.3 282.5h5.8M398.3 257.9V296.4M395.4 257.9h5.8M395.4 296.4h5.8M398.4 273.8V291.1M395.5 273.8h5.8M395.5 291.1h5.8M398.5 301.8V324.7M395.6 301.8h5.8M395.6 324.7h5.8M398.5 251.9V272.8M395.6 251.9h5.8M395.6 272.8h5.8M398.6 273.1V294.7M395.7 273.1h5.8M395.7 294.7h5.8M398.7 248.8V276.1M395.8 248.8h5.8M395.8 276.1h5.8M398.8 238.7V266.5M395.9 238.7h5.8M395.9 266.5h5.8M398.9 254.1V290.4M396.0 254.1h5.8M396.0 290.4h5.8M398.9 232.1V282.5M396.0 232.1h5.8M396.0 282.5h5.8M399.1 267.2V290.1M396.2 267.2h5.8M396.2 290.1h5.8M399.2 271.0V307.4M396.3 271.0h5.8M396.3 307.4h5.8M399.2 253.2V268.6M396.3 253.2h5.8M396.3 268.6h5.8M399.3 276.1V311.2M396.4 276.1h5.8M396.4 311.2h5.8M399.4 244.7V269.1M396.5 244.7h5.8M396.5 269.1h5.8M399.5 265.2V294.4M396.6 265.2h5.8M396.6 294.4h5.8M399.5 276.6V295.9M396.6 276.6h5.8M396.6 295.9h5.8M399.6 265.5V307.4M396.7 265.5h5.8M396.7 307.4h5.8M399.7 268.9V293.1M396.8 268.9h5.8M396.8 293.1h5.8M399.8 257.8V284.2M396.9 257.8h5.8M396.9 284.2h5.8M399.8 271.7V284.7M396.9 271.7h5.8M396.9 284.7h5.8M399.9 261.0V276.4M397.0 261.0h5.8M397.0 276.4h5.8M418.0 264.7V280.0M415.1 264.7h5.8M415.1 280.0h5.8M418.6 251.7V282.1M415.7 251.7h5.8M415.7 282.1h5.8M418.9 255.9V272.6M416.0 255.9h5.8M416.0 272.6h5.8M419.4 262.8V288.8M416.5 262.8h5.8M416.5 288.8h5.8M419.9 252.3V277.6M417.0 252.3h5.8M417.0 277.6h5.8M420.4 258.6V278.9M417.5 258.6h5.8M417.5 278.9h5.8M420.9 261.7V275.8M418.0 261.7h5.8M418.0 275.8h5.8M421.0 251.1V282.8M418.1 251.1h5.8M418.1 282.8h5.8M421.6 248.8V269.9M418.7 248.8h5.8M418.7 269.9h5.8M422.0 253.9V281.2M419.1 253.9h5.8M419.1 281.2h5.8M422.5 259.7V283.0M419.6 259.7h5.8M419.6 283.0h5.8M422.9 254.9V287.6M420.0 254.9h5.8M420.0 287.6h5.8M423.3 248.9V274.6M420.4 248.9h5.8M420.4 274.6h5.8M424.0 246.5V278.1M421.1 246.5h5.8M421.1 278.1h5.8M424.4 256.7V281.8M421.5 256.7h5.8M421.5 281.8h5.8M424.5 262.9V275.8M421.6 262.9h5.8M421.6 275.8h5.8M425.1 262.0V290.0M422.2 262.0h5.8M422.2 290.0h5.8M425.4 257.5V279.6M422.5 257.5h5.8M422.5 279.6h5.8M425.9 257.0V280.4M423.0 257.0h5.8M423.0 280.4h5.8M426.5 262.2V282.8M423.6 262.2h5.8M423.6 282.8h5.8M426.8 258.3V275.8M423.9 258.3h5.8M423.9 275.8h5.8M427.4 248.9V266.4M424.5 248.9h5.8M424.5 266.4h5.8M427.8 263.0V278.9M424.9 263.0h5.8M424.9 278.9h5.8M428.0 257.8V269.1M425.1 257.8h5.8M425.1 269.1h5.8M428.5 243.4V265.0M425.6 243.4h5.8M425.6 265.0h5.8M429.1 261.4V276.6M426.2 261.4h5.8M426.2 276.6h5.8M429.4 266.2V289.3M426.5 266.2h5.8M426.5 289.3h5.8M430.1 257.5V279.4M427.2 257.5h5.8M427.2 279.4h5.8M430.5 256.0V275.4M427.6 256.0h5.8M427.6 275.4h5.8M430.9 258.7V277.7M428.0 258.7h5.8M428.0 277.7h5.8M431.2 259.5V291.5M428.3 259.5h5.8M428.3 291.5h5.8M431.8 278.3V297.3M428.9 278.3h5.8M428.9 297.3h5.8M432.0 261.9V289.4M429.1 261.9h5.8M429.1 289.4h5.8M432.5 262.1V277.3M429.6 262.1h5.8M429.6 277.3h5.8M433.0 254.4V269.6M430.1 254.4h5.8M430.1 269.6h5.8M433.3 268.8V288.7M430.4 268.8h5.8M430.4 288.7h5.8M434.0 255.5V273.4M431.1 255.5h5.8M431.1 273.4h5.8M434.2 272.2V295.4M431.3 272.2h5.8M431.3 295.4h5.8M434.9 240.8V273.9M432.0 240.8h5.8M432.0 273.9h5.8M435.4 262.0V284.8M432.5 262.0h5.8M432.5 284.8h5.8M435.5 253.3V276.2M432.6 253.3h5.8M432.6 276.2h5.8M435.9 249.5V288.1M433.0 249.5h5.8M433.0 288.1h5.8M436.7 256.0V276.8M433.8 256.0h5.8M433.8 276.8h5.8M436.9 250.9V278.0M434.0 250.9h5.8M434.0 278.0h5.8M437.5 253.3V284.0M434.6 253.3h5.8M434.6 284.0h5.8M437.6 268.1V287.7M434.7 268.1h5.8M434.7 287.7h5.8M438.3 272.2V293.9M435.4 272.2h5.8M435.4 293.9h5.8M438.9 246.9V271.4M436.0 246.9h5.8M436.0 271.4h5.8M439.1 261.7V297.6M436.2 261.7h5.8M436.2 297.6h5.8M439.8 258.8V276.0M436.9 258.8h5.8M436.9 276.0h5.8M440.1 252.7V271.6M437.2 252.7h5.8M437.2 271.6h5.8M440.3 251.9V274.2M437.4 251.9h5.8M437.4 274.2h5.8M440.8 258.3V286.7M437.9 258.3h5.8M437.9 286.7h5.8M441.4 274.1V297.1M438.5 274.1h5.8M438.5 297.1h5.8M441.7 266.0V286.5M438.8 266.0h5.8M438.8 286.5h5.8M442.3 259.2V283.7M439.4 259.2h5.8M439.4 283.7h5.8M442.7 262.9V279.3M439.8 262.9h5.8M439.8 279.3h5.8M443.0 253.3V288.8M440.1 253.3h5.8M440.1 288.8h5.8M443.6 267.6V282.2M440.7 267.6h5.8M440.7 282.2h5.8M443.8 262.5V288.9M440.9 262.5h5.8M440.9 288.9h5.8M444.5 268.3V290.4M441.6 268.3h5.8M441.6 290.4h5.8M445.0 262.9V277.6M442.1 262.9h5.8M442.1 277.6h5.8M445.4 265.6V284.0M442.5 265.6h5.8M442.5 284.0h5.8M445.5 264.4V282.4M442.6 264.4h5.8M442.6 282.4h5.8M446.3 266.7V280.9M443.4 266.7h5.8M443.4 280.9h5.8M446.6 286.4V303.4M443.7 286.4h5.8M443.7 303.4h5.8M447.0 260.5V291.3M444.1 260.5h5.8M444.1 291.3h5.8M447.4 247.4V275.2M444.5 247.4h5.8M444.5 275.2h5.8M448.0 253.6V288.8M445.1 253.6h5.8M445.1 288.8h5.8M448.2 279.2V289.1M445.3 279.2h5.8M445.3 289.1h5.8M448.5 253.6V289.5M445.6 253.6h5.8M445.6 289.5h5.8M449.3 264.5V287.8M446.4 264.5h5.8M446.4 287.8h5.8M449.7 260.3V277.6M446.8 260.3h5.8M446.8 277.6h5.8M449.8 260.8V285.7M446.9 260.8h5.8M446.9 285.7h5.8M450.4 253.4V269.5M447.5 253.4h5.8M447.5 269.5h5.8M450.7 260.2V283.3M447.8 260.2h5.8M447.8 283.3h5.8M451.2 257.8V280.2M448.3 257.8h5.8M448.3 280.2h5.8M451.7 264.9V296.6M448.8 264.9h5.8M448.8 296.6h5.8M452.0 253.1V276.6M449.1 253.1h5.8M449.1 276.6h5.8M452.9 258.8V277.0M450.0 258.8h5.8M450.0 277.0h5.8M453.3 268.8V280.4M450.4 268.8h5.8M450.4 280.4h5.8M453.4 259.0V275.2M450.5 259.0h5.8M450.5 275.2h5.8M454.1 257.7V281.4M451.2 257.7h5.8M451.2 281.4h5.8M454.2 245.4V287.5M451.3 245.4h5.8M451.3 287.5h5.8M454.6 258.0V285.6M451.7 258.0h5.8M451.7 285.6h5.8M455.5 259.1V282.0M452.6 259.1h5.8M452.6 282.0h5.8M455.7 244.6V259.9M452.8 244.6h5.8M452.8 259.9h5.8M456.3 258.9V279.7M453.4 258.9h5.8M453.4 279.7h5.8M456.5 262.7V303.8M453.6 262.7h5.8M453.6 303.8h5.8M457.0 263.8V287.6M454.1 263.8h5.8M454.1 287.6h5.8M472.0 245.1V280.8M469.1 245.1h5.8M469.1 280.8h5.8M472.8 253.7V271.3M469.9 253.7h5.8M469.9 271.3h5.8M473.2 259.2V278.1M470.3 259.2h5.8M470.3 278.1h5.8M473.5 264.4V279.9M470.6 264.4h5.8M470.6 279.9h5.8M473.7 248.2V276.1M470.8 248.2h5.8M470.8 276.1h5.8M474.3 270.1V295.5M471.4 270.1h5.8M471.4 295.5h5.8M474.7 267.2V283.5M471.8 267.2h5.8M471.8 283.5h5.8M475.1 248.6V272.5M472.2 248.6h5.8M472.2 272.5h5.8M475.8 245.7V266.0M472.9 245.7h5.8M472.9 266.0h5.8M476.2 259.2V278.8M473.3 259.2h5.8M473.3 278.8h5.8M476.4 281.2V294.8M473.5 281.2h5.8M473.5 294.8h5.8M477.1 257.5V284.7M474.2 257.5h5.8M474.2 284.7h5.8M477.5 265.3V288.3M474.6 265.3h5.8M474.6 288.3h5.8M477.6 269.2V285.0M474.7 269.2h5.8M474.7 285.0h5.8M478.3 271.7V282.6M475.4 271.7h5.8M475.4 282.6h5.8M478.9 244.7V276.4M476.0 244.7h5.8M476.0 276.4h5.8M479.3 254.3V284.8M476.4 254.3h5.8M476.4 284.8h5.8M479.4 254.7V274.8M476.5 254.7h5.8M476.5 274.8h5.8M479.8 260.0V296.5M476.9 260.0h5.8M476.9 296.5h5.8M480.4 277.1V301.2M477.5 277.1h5.8M477.5 301.2h5.8M481.1 256.8V280.6M478.2 256.8h5.8M478.2 280.6h5.8M481.4 262.2V280.0M478.5 262.2h5.8M478.5 280.0h5.8M481.6 272.0V289.8M478.7 272.0h5.8M478.7 289.8h5.8M482.1 258.4V273.8M479.2 258.4h5.8M479.2 273.8h5.8M482.6 251.9V276.5M479.7 251.9h5.8M479.7 276.5h5.8M483.0 269.7V291.5M480.1 269.7h5.8M480.1 291.5h5.8M483.4 259.8V306.0M480.5 259.8h5.8M480.5 306.0h5.8M484.0 253.4V271.3M481.1 253.4h5.8M481.1 271.3h5.8M484.2 263.6V286.7M481.3 263.6h5.8M481.3 286.7h5.8M484.6 247.2V279.4M481.7 247.2h5.8M481.7 279.4h5.8M485.4 262.0V298.4M482.5 262.0h5.8M482.5 298.4h5.8M485.7 267.3V300.2M482.8 267.3h5.8M482.8 300.2h5.8M486.3 264.6V282.1M483.4 264.6h5.8M483.4 282.1h5.8M486.6 261.8V288.1M483.7 261.8h5.8M483.7 288.1h5.8M487.0 256.4V268.8M484.1 256.4h5.8M484.1 268.8h5.8M487.2 252.5V272.1M484.3 252.5h5.8M484.3 272.1h5.8M487.8 244.3V293.3M484.9 244.3h5.8M484.9 293.3h5.8M488.2 259.9V290.3M485.3 259.9h5.8M485.3 290.3h5.8M488.7 266.0V280.2M485.8 266.0h5.8M485.8 280.2h5.8M489.3 272.3V285.4M486.4 272.3h5.8M486.4 285.4h5.8M489.6 262.7V291.6M486.7 262.7h5.8M486.7 291.6h5.8M490.0 240.6V269.0M487.1 240.6h5.8M487.1 269.0h5.8M490.6 258.2V288.6M487.7 258.2h5.8M487.7 288.6h5.8M491.0 236.8V259.2M488.1 236.8h5.8M488.1 259.2h5.8M491.1 285.4V302.0M488.2 285.4h5.8M488.2 302.0h5.8M491.6 265.3V285.2M488.7 265.3h5.8M488.7 285.2h5.8M492.1 271.6V293.8M489.2 271.6h5.8M489.2 293.8h5.8M492.8 263.9V278.7M489.9 263.9h5.8M489.9 278.7h5.8M492.9 276.9V297.9M490.0 276.9h5.8M490.0 297.9h5.8M493.4 258.4V272.0M490.5 258.4h5.8M490.5 272.0h5.8M494.1 254.4V282.3M491.2 254.4h5.8M491.2 282.3h5.8M494.5 276.9V291.1M491.6 276.9h5.8M491.6 291.1h5.8M494.9 269.5V286.1M492.0 269.5h5.8M492.0 286.1h5.8M495.4 268.8V288.3M492.5 268.8h5.8M492.5 288.3h5.8M495.8 275.3V303.3M492.9 275.3h5.8M492.9 303.3h5.8M495.9 241.6V260.2M493.0 241.6h5.8M493.0 260.2h5.8M496.5 244.2V262.0M493.6 244.2h5.8M493.6 262.0h5.8M497.2 264.5V286.9M494.3 264.5h5.8M494.3 286.9h5.8M497.4 243.0V265.8M494.5 243.0h5.8M494.5 265.8h5.8M497.7 268.9V289.6M494.8 268.9h5.8M494.8 289.6h5.8M498.5 237.5V263.4M495.6 237.5h5.8M495.6 263.4h5.8M499.0 255.9V280.1M496.1 255.9h5.8M496.1 280.1h5.8M499.2 259.8V298.2M496.3 259.8h5.8M496.3 298.2h5.8M499.8 254.7V267.6M496.9 254.7h5.8M496.9 267.6h5.8M499.9 255.0V283.4M497.0 255.0h5.8M497.0 283.4h5.8M500.4 258.9V283.7M497.5 258.9h5.8M497.5 283.7h5.8M501.0 248.3V280.8M498.1 248.3h5.8M498.1 280.8h5.8M501.5 258.9V273.6M498.6 258.9h5.8M498.6 273.6h5.8M501.8 268.8V286.6M498.9 268.8h5.8M498.9 286.6h5.8M502.2 259.0V290.0M499.3 259.0h5.8M499.3 290.0h5.8M502.7 258.5V281.5M499.8 258.5h5.8M499.8 281.5h5.8M503.1 259.5V278.9M500.2 259.5h5.8M500.2 278.9h5.8M503.6 254.6V281.7M500.7 254.6h5.8M500.7 281.7h5.8M503.8 272.1V291.1M500.9 272.1h5.8M500.9 291.1h5.8M504.4 262.4V289.7M501.5 262.4h5.8M501.5 289.7h5.8M504.6 249.1V271.9M501.7 249.1h5.8M501.7 271.9h5.8M505.3 249.5V263.7M502.4 249.5h5.8M502.4 263.7h5.8M505.6 260.0V278.4M502.7 260.0h5.8M502.7 278.4h5.8M506.0 271.2V289.0M503.1 271.2h5.8M503.1 289.0h5.8M506.4 271.0V293.1M503.5 271.0h5.8M503.5 293.1h5.8M506.9 255.1V277.4M504.0 255.1h5.8M504.0 277.4h5.8M507.5 271.0V303.7M504.6 271.0h5.8M504.6 303.7h5.8M507.8 260.0V278.6M504.9 260.0h5.8M504.9 278.6h5.8M508.5 266.3V297.6M505.6 266.3h5.8M505.6 297.6h5.8M508.6 244.3V263.8M505.7 244.3h5.8M505.7 263.8h5.8M526.3 248.5V270.3M523.4 248.5h5.8M523.4 270.3h5.8M526.8 251.0V282.0M523.9 251.0h5.8M523.9 282.0h5.8M527.1 259.3V281.8M524.2 259.3h5.8M524.2 281.8h5.8M527.5 273.7V291.0M524.6 273.7h5.8M524.6 291.0h5.8M527.9 272.8V292.3M525.0 272.8h5.8M525.0 292.3h5.8M528.2 252.9V280.3M525.3 252.9h5.8M525.3 280.3h5.8M528.3 256.0V273.5M525.4 256.0h5.8M525.4 273.5h5.8M528.9 276.8V301.7M526.0 276.8h5.8M526.0 301.7h5.8M529.2 248.2V283.2M526.3 248.2h5.8M526.3 283.2h5.8M529.5 264.4V286.8M526.6 264.4h5.8M526.6 286.8h5.8M529.6 244.6V281.1M526.7 244.6h5.8M526.7 281.1h5.8M530.0 239.5V286.6M527.1 239.5h5.8M527.1 286.6h5.8M530.6 257.8V276.2M527.7 257.8h5.8M527.7 276.2h5.8M530.8 253.2V280.3M527.9 253.2h5.8M527.9 280.3h5.8M531.0 242.2V268.0M528.1 242.2h5.8M528.1 268.0h5.8M531.3 256.7V273.1M528.4 256.7h5.8M528.4 273.1h5.8M531.6 254.8V278.2M528.7 254.8h5.8M528.7 278.2h5.8M532.3 267.2V285.5M529.4 267.2h5.8M529.4 285.5h5.8M532.4 252.4V273.4M529.5 252.4h5.8M529.5 273.4h5.8M532.9 258.4V285.8M530.0 258.4h5.8M530.0 285.8h5.8M533.1 258.9V284.2M530.2 258.9h5.8M530.2 284.2h5.8M533.4 254.2V281.8M530.5 254.2h5.8M530.5 281.8h5.8M533.8 257.1V277.5M530.9 257.1h5.8M530.9 277.5h5.8M534.2 253.7V279.8M531.3 253.7h5.8M531.3 279.8h5.8M534.4 254.7V285.0M531.5 254.7h5.8M531.5 285.0h5.8M534.9 262.8V276.3M532.0 262.8h5.8M532.0 276.3h5.8M535.1 257.0V285.6M532.2 257.0h5.8M532.2 285.6h5.8M535.6 268.9V298.2M532.7 268.9h5.8M532.7 298.2h5.8M535.9 259.2V275.5M533.0 259.2h5.8M533.0 275.5h5.8M536.3 253.2V287.3M533.4 253.2h5.8M533.4 287.3h5.8M536.5 274.9V300.5M533.6 274.9h5.8M533.6 300.5h5.8M536.9 239.9V264.3M534.0 239.9h5.8M534.0 264.3h5.8M537.2 244.0V261.0M534.3 244.0h5.8M534.3 261.0h5.8M537.5 252.6V273.3M534.6 252.6h5.8M534.6 273.3h5.8M538.0 251.1V271.2M535.1 251.1h5.8M535.1 271.2h5.8M538.3 255.0V285.1M535.4 255.0h5.8M535.4 285.1h5.8M538.5 260.0V279.3M535.6 260.0h5.8M535.6 279.3h5.8M538.7 250.3V297.4M535.8 250.3h5.8M535.8 297.4h5.8M539.2 251.1V281.5M536.3 251.1h5.8M536.3 281.5h5.8M539.5 236.3V275.9M536.6 236.3h5.8M536.6 275.9h5.8M539.8 247.5V274.5M536.9 247.5h5.8M536.9 274.5h5.8M540.1 241.9V274.8M537.2 241.9h5.8M537.2 274.8h5.8M540.5 253.5V283.5M537.6 253.5h5.8M537.6 283.5h5.8M540.8 246.8V265.1M537.9 246.8h5.8M537.9 265.1h5.8M541.2 263.7V278.7M538.3 263.7h5.8M538.3 278.7h5.8M541.6 239.0V285.4M538.7 239.0h5.8M538.7 285.4h5.8M541.8 239.6V258.1M538.9 239.6h5.8M538.9 258.1h5.8M542.3 238.3V258.7M539.4 238.3h5.8M539.4 258.7h5.8M542.5 246.2V264.7M539.6 246.2h5.8M539.6 264.7h5.8M542.8 248.5V279.7M539.9 248.5h5.8M539.9 279.7h5.8M543.3 269.3V289.5M540.4 269.3h5.8M540.4 289.5h5.8M543.7 240.7V267.3M540.8 240.7h5.8M540.8 267.3h5.8M543.8 238.1V266.6M540.9 238.1h5.8M540.9 266.6h5.8M544.2 246.6V271.1M541.3 246.6h5.8M541.3 271.1h5.8M544.5 226.5V254.4M541.6 226.5h5.8M541.6 254.4h5.8M545.0 246.9V285.7M542.1 246.9h5.8M542.1 285.7h5.8M545.4 246.1V273.7M542.5 246.1h5.8M542.5 273.7h5.8M545.7 267.1V290.5M542.8 267.1h5.8M542.8 290.5h5.8M545.9 252.9V280.5M543.0 252.9h5.8M543.0 280.5h5.8M546.3 255.4V276.1M543.4 255.4h5.8M543.4 276.1h5.8M546.7 255.2V287.3M543.8 255.2h5.8M543.8 287.3h5.8M546.9 237.9V262.0M544.0 237.9h5.8M544.0 262.0h5.8M547.4 250.4V266.5M544.5 250.4h5.8M544.5 266.5h5.8M547.7 258.4V286.0M544.8 258.4h5.8M544.8 286.0h5.8M548.1 257.1V294.2M545.2 257.1h5.8M545.2 294.2h5.8M548.2 253.9V273.6M545.3 253.9h5.8M545.3 273.6h5.8M548.8 259.5V276.9M545.9 259.5h5.8M545.9 276.9h5.8M549.0 247.9V273.2M546.1 247.9h5.8M546.1 273.2h5.8M549.2 250.1V273.4M546.3 250.1h5.8M546.3 273.4h5.8M549.7 244.6V262.9M546.8 244.6h5.8M546.8 262.9h5.8M549.9 251.9V271.4M547.0 251.9h5.8M547.0 271.4h5.8M550.4 249.9V274.6M547.5 249.9h5.8M547.5 274.6h5.8M550.8 247.0V269.3M547.9 247.0h5.8M547.9 269.3h5.8M551.1 248.1V264.0M548.2 248.1h5.8M548.2 264.0h5.8M551.2 241.0V281.3M548.3 241.0h5.8M548.3 281.3h5.8M551.5 241.4V271.9M548.6 241.4h5.8M548.6 271.9h5.8M552.1 267.7V288.8M549.2 267.7h5.8M549.2 288.8h5.8M552.4 243.8V287.6M549.5 243.8h5.8M549.5 287.6h5.8M552.8 235.0V262.4M549.9 235.0h5.8M549.9 262.4h5.8M552.9 260.3V281.6M550.0 260.3h5.8M550.0 281.6h5.8M553.5 263.5V288.9M550.6 263.5h5.8M550.6 288.9h5.8M553.8 230.9V261.1M550.9 230.9h5.8M550.9 261.1h5.8M554.0 248.6V271.7M551.1 248.6h5.8M551.1 271.7h5.8M554.4 231.1V265.2M551.5 231.1h5.8M551.5 265.2h5.8M554.6 260.6V272.8M551.7 260.6h5.8M551.7 272.8h5.8M555.1 230.4V269.4M552.2 230.4h5.8M552.2 269.4h5.8M555.4 240.8V269.7M552.5 240.8h5.8M552.5 269.7h5.8M555.8 259.0V281.2M552.9 259.0h5.8M552.9 281.2h5.8M556.2 266.2V286.1M553.3 266.2h5.8M553.3 286.1h5.8M556.5 228.9V256.1M553.6 228.9h5.8M553.6 256.1h5.8M556.6 223.0V244.9M553.7 223.0h5.8M553.7 244.9h5.8M557.1 252.5V281.5M554.2 252.5h5.8M554.2 281.5h5.8M557.3 235.3V268.3M554.4 235.3h5.8M554.4 268.3h5.8M557.6 246.5V273.6M554.7 246.5h5.8M554.7 273.6h5.8M558.0 237.1V261.2M555.1 237.1h5.8M555.1 261.2h5.8M558.3 247.9V267.5M555.4 247.9h5.8M555.4 267.5h5.8M558.6 242.3V261.3M555.7 242.3h5.8M555.7 261.3h5.8M558.9 246.1V266.6M556.0 246.1h5.8M556.0 266.6h5.8M559.5 243.3V267.1M556.6 243.3h5.8M556.6 267.1h5.8M559.7 249.9V272.3M556.8 249.9h5.8M556.8 272.3h5.8M560.1 252.6V276.8M557.2 252.6h5.8M557.2 276.8h5.8M560.4 252.1V279.5M557.5 252.1h5.8M557.5 279.5h5.8M560.6 224.9V242.2M557.7 224.9h5.8M557.7 242.2h5.8M561.2 236.8V266.2M558.3 236.8h5.8M558.3 266.2h5.8M561.3 245.4V260.5M558.4 245.4h5.8M558.4 260.5h5.8M561.6 231.0V262.0M558.7 231.0h5.8M558.7 262.0h5.8M562.1 242.8V261.5M559.2 242.8h5.8M559.2 261.5h5.8M562.4 237.6V260.7M559.5 237.6h5.8M559.5 260.7h5.8M562.7 239.2V256.9M559.8 239.2h5.8M559.8 256.9h5.8M563.1 240.9V260.9M560.2 240.9h5.8M560.2 260.9h5.8M581.2 151.1V167.1M578.3 151.1h5.8M578.3 167.1h5.8M582.0 169.0V184.0M579.1 169.0h5.8M579.1 184.0h5.8M582.4 165.5V178.5M579.5 165.5h5.8M579.5 178.5h5.8M582.6 174.3V188.3M579.7 174.3h5.8M579.7 188.3h5.8M583.7 179.8V193.8M580.8 179.8h5.8M580.8 193.8h5.8M584.4 185.5V199.5M581.5 185.5h5.8M581.5 199.5h5.8M583.9 193.3V206.3M581.0 193.3h5.8M581.0 206.3h5.8" stroke="#000" stroke-width="1" fill="none"/>
<path d="M85.7 266.3L93.6 266.3L101.5 266.3L109.5 266.3L117.4 266.3L125.3 266.3L133.2 266.3L141.1 266.3L149.0 266.3L156.9 266.3L164.9 266.3L172.8 266.3L180.7 266.3L188.6 266.3L196.5 266.3L204.4 266.3L212.4 266.3L220.3 266.3L228.2 266.3L236.1 266.3L244.0 266.3L251.9 266.3L259.8 266.3L267.8 266.3L275.7 266.3L283.6 266.3L291.5 266.3L299.4 266.3L307.3 266.3L315.3 266.3L323.2 266.3L331.1 266.3L339.0 266.3L346.9 266.3L354.8 266.3L362.7 266.3L370.7 266.3L378.6 266.3L386.5 266.3L394.4 266.3L402.3 266.3L410.2 266.3L418.2 266.3L426.1 266.3L434.0 266.3L441.9 266.3L449.8 266.3L457.7 266.3L465.6 266.3L473.6 266.3L481.5 266.3L489.4 266.2L497.3 266.2L505.2 266.1L513.1 266.0L521.1 265.7L529.0 265.3L536.9 264.5L544.8 262.7L552.7 258.4L552.7 258.4L552.9 258.2L553.1 258.0L553.3 257.9L553.4 257.7L553.6 257.6L553.8 257.4L554.0 257.2L554.2 257.0L554.3 256.9L554.5 256.7L554.7 256.5L554.9 256.3L555.0 256.1L555.2 255.9L555.4 255.7L555.6 255.5L555.8 255.2L555.9 255.0L556.1 254.8L556.3 254.6L556.5 254.3L556.7 254.1L556.8 253.8L557.0 253.6L557.2 253.3L557.4 253.1L557.6 252.8L557.7 252.5L557.9 252.2L558.1 251.9L558.3 251.6L558.5 251.3L558.6 251.0L558.8 250.7L559.0 250.4L559.2 250.0L559.4 249.7L559.5 249.3L559.7 249.0L559.9 248.6L560.1 248.2L560.3 247.9L560.4 247.5L560.6 247.1L560.8 246.7L561.0 246.2L561.1 245.8L561.3 245.4L561.5 244.9L561.7 244.5L561.9 244.0L562.0 243.5L562.2 243.0L562.4 242.5L562.6 242.0L562.8 241.5L562.9 240.9L563.1 240.4L563.3 239.8L563.5 239.2L563.7 238.7L563.8 238.1L564.0 237.4L564.2 236.8L564.4 236.2L564.6 235.5L564.7 234.8L564.9 234.2L565.1 233.5L565.3 232.7L565.5 232.0L565.6 231.3L565.8 230.5L566.0 229.7L566.2 228.9L566.3 228.1L566.5 227.3L566.7 226.5L566.9 225.6L567.1 224.7L567.2 223.8L567.4 222.9L567.6 222.0L567.8 221.1L568.0 220.1L568.1 219.1L568.3 218.1L568.5 217.1L568.7 216.1L568.9 215.1L569.0 214.0L569.2 212.9L569.4 211.8L569.6 210.7L569.8 209.6L569.9 208.5L570.1 207.3L570.3 206.1L570.5 205.0L570.7 203.8L570.8 202.6L571.0 201.3L571.2 200.1L571.4 198.9L571.6 197.6L571.7 196.4L571.9 195.1L572.1 193.9L572.3 192.6L572.4 191.4L572.6 190.1L572.8 188.8L573.0 187.6L573.2 186.3L573.3 185.1L573.5 183.8L573.7 182.6L573.9 181.4L574.1 180.2L574.2 179.0L574.4 177.9L574.6 176.8L574.8 175.7L575.0 174.6L575.1 173.6L575.3 172.6L575.5 171.6L575.7 170.7L575.9 169.8L576.0 168.9L576.2 168.2L576.4 167.4L576.6 166.7L576.8 166.1L576.9 165.5L577.1 165.0L577.3 164.6L577.5 164.2L577.6 163.9L577.8 163.6L578.0 163.4L578.2 163.3L578.4 163.2L578.5 163.2L578.7 163.3L578.9 163.4L579.1 163.7L579.3 163.9L579.4 164.3L579.6 164.7L579.8 165.2L580.0 165.7L580.2 166.3L580.3 166.9L580.5 167.6L580.7 168.4L580.9 169.2L581.1 170.0L581.2 170.9L581.4 171.8L581.6 172.8L581.8 173.8L582.0 174.9L582.1 176.0L582.3 177.1L582.5 178.2L582.7 179.4L582.9 180.5L583.0 181.7L583.2 182.9L583.4 184.2L583.6 185.4L583.7 186.7L583.9 187.9L584.1 189.2L584.3 190.4L584.5 191.7L584.6 193.0L584.8 194.2L585.0 195.5L585.2 196.7L585.4 198.0L585.5 199.2L585.7 200.5L585.9 201.7L586.1 202.9L586.3 204.1L586.4 205.3L586.6 206.5L586.8 207.6L587.0 208.8L587.2 209.9L587.3 211.0L587.5 212.1L587.7 213.2L587.9 214.3L588.1 215.3L588.2 216.4L588.4 217.4" stroke="#ff22ff" stroke-width="1.3" fill="none"/>
</g>
<path d="M91.7 436.6v-9.5M91.7 62.3v9.5M121.4 436.6v-19M121.4 62.3v19M151.1 436.6v-9.5M151.1 62.3v9.5M180.9 436.6v-9.5M180.9 62.3v9.5M210.6 436.6v-9.5M210.6 62.3v9.5M240.4 436.6v-9.5M240.4 62.3v9.5M270.1 436.6v-19M270.1 62.3v19M299.9 436.6v-9.5M299.9 62.3v9.5M329.6 436.6v-9.5M329.6 62.3v9.5M359.4 436.6v-9.5M359.4 62.3v9.5M389.1 436.6v-9.5M389.1 62.3v9.5M418.9 436.6v-19M418.9 62.3v19M448.6 436.6v-9.5M448.6 62.3v9.5M478.4 436.6v-9.5M478.4 62.3v9.5M508.1 436.6v-9.5M508.1 62.3v9.5M537.8 436.6v-9.5M537.8 62.3v9.5M567.6 436.6v-19M567.6 62.3v19M87.5 74.4h9.5M587.6 74.4h-9.5M87.5 98.7h9.5M587.6 98.7h-9.5M87.5 123.0h9.5M587.6 123.0h-9.5M87.5 147.3h19.5M587.6 147.3h-19.5M87.5 171.6h9.5M587.6 171.6h-9.5M87.5 195.9h9.5M587.6 195.9h-9.5M87.5 220.2h9.5M587.6 220.2h-9.5M87.5 244.5h9.5M587.6 244.5h-9.5M87.5 268.9h19.5M587.6 268.9h-19.5M87.5 293.2h9.5M587.6 293.2h-9.5M87.5 317.5h9.5M587.6 317.5h-9.5M87.5 341.8h9.5M587.6 341.8h-9.5M87.5 366.1h9.5M587.6 366.1h-9.5M87.5 390.4h19.5M587.6 390.4h-19.5M87.5 414.7h9.5M587.6 414.7h-9.5" stroke="#000" stroke-width="1" fill="none"/>
<rect x="87.5" y="62.3" width="500.1" height="374.3" fill="none" stroke="#000" stroke-width="1.4"/>
<g font-family="'Liberation Serif', 'DejaVu Serif', serif" fill="#000" stroke="#000" stroke-width="0.4" font-size="20">
<text x="239" y="40.6" stroke-width="0.6" textLength="197.5" lengthAdjust="spacingAndGlyphs">OGLE-2026-BLG-0024</text>
<text x="272.6" y="491.1" stroke-width="0.55" font-size="19" textLength="130" lengthAdjust="spacingAndGlyphs">HJD - 2450000</text>
<text x="100.3" y="462.6" textLength="41.5" lengthAdjust="spacingAndGlyphs">8000</text>
<text x="249.2" y="462.6" textLength="41.5" lengthAdjust="spacingAndGlyphs">9000</text>
<text x="393.5" y="462.6" textLength="51.5" lengthAdjust="spacingAndGlyphs">10000</text>
<text x="542" y="462.6" textLength="51.5" lengthAdjust="spacingAndGlyphs">11000</text>
<text x="42.5" y="154.3" stroke-width="0.65" font-size="19.2" textLength="35.5" lengthAdjust="spacingAndGlyphs">17.5</text>
<text x="58.3" y="276.3" stroke-width="0.65" font-size="19.2" textLength="19.8" lengthAdjust="spacingAndGlyphs">18</text>
<text x="42.5" y="397.3" stroke-width="0.65" font-size="19.2" textLength="35.5" lengthAdjust="spacingAndGlyphs">18.5</text>
</g>
<g font-family="'DejaVu Serif', 'Liberation Serif', serif" fill="#000" stroke="#000" stroke-width="0.35">
<text transform="translate(27 248.6) rotate(-90)" font-size="17.3" text-anchor="middle">I magnitude</text>
</g>
</svg>
</body></html>
